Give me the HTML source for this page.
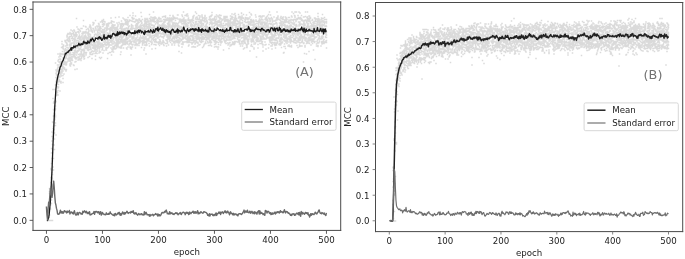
<!DOCTYPE html>
<html lang="en"><head><meta charset="utf-8"><title>MCC vs epoch</title>
<style>html,body{margin:0;padding:0;background:#fff;}body{width:685px;height:259px;overflow:hidden;}</style>
</head><body>
<svg width="685" height="259" viewBox="0 0 685 259" style="display:block;font-family:'DejaVu Sans', 'Liberation Sans', sans-serif">
<rect x="0" y="0" width="685" height="259" fill="#fff"/>
<path d="M152.75 12h1.5M182.75 12h1.5M194.75 12h1.5M268.75 12h1.5M276.25 12h1.5M291.25 12h1.5M294.25 12h3M298.25 12h1.5M304.75 12h1.5M306.75 12h1.5M140.25 12.5h1.5M211.25 12.5h1.5M248.75 12.5h1.5M132.25 13h1.5M240.75 13h1.5M299.25 13h1.5M195.75 13.5h1.5M234.25 13.5h1.5M240.75 13.5h1.5M292.75 13.5h1.5M317.25 13.5h1.5M186.75 14h1.5M231.25 14h1.5M250.25 14h1.5M148.75 14.5h1.5M185.75 14.5h1.5M233.25 14.5h1.5M237.75 14.5h1.5M242.75 14.5h1.5M267.75 14.5h1.5M321.75 14.5h1.5M176.75 15h2M181.25 15h1.5M185.75 15h1.5M201.25 15h1.5M211.25 15h1.5M215.75 15h1.5M218.75 15h1.5M245.75 15h1.5M250.75 15h1.5M254.75 15h1.5M269.75 15h1.5M129.25 15.5h1.5M132.25 15.5h1.5M169.25 15.5h1.5M172.25 15.5h1.5M184.25 15.5h3M193.25 15.5h1.5M197.75 15.5h1.5M201.25 15.5h1.5M204.25 15.5h1.5M210.75 15.5h1.5M219.25 15.5h2.5M234.75 15.5h1.5M293.75 15.5h1.5M297.25 15.5h1.5M300.75 15.5h1.5M134.75 16h1.5M164.75 16h1.5M186.25 16h2.5M199.25 16h1.5M210.25 16h1.5M217.25 16h1.5M229.75 16h1.5M241.25 16h1.5M258.75 16h2.5M261.75 16h3M266.75 16h1.5M277.25 16h1.5M290.75 16h1.5M294.25 16h1.5M308.25 16h2M140.75 16.5h1.5M162.75 16.5h2M172.25 16.5h1.5M181.75 16.5h1.5M192.25 16.5h1.5M204.25 16.5h1.5M209.25 16.5h2.5M214.25 16.5h1.5M223.25 16.5h4.5M231.25 16.5h1.5M238.25 16.5h2.5M258.25 16.5h1.5M280.25 16.5h1.5M304.75 16.5h1.5M317.25 16.5h1.5M118.25 17h1.5M150.25 17h1.5M154.25 17h1.5M161.75 17h1.5M172.75 17h1.5M192.75 17h1.5M196.25 17h1.5M199.25 17h1.5M201.25 17h1.5M208.75 17h1.5M215.75 17h1.5M217.75 17h1.5M223.75 17h1.5M234.75 17h1.5M241.25 17h1.5M249.25 17h1.5M255.25 17h1.5M259.75 17h3M265.75 17h1.5M273.25 17h1.5M277.25 17h1.5M282.75 17h1.5M284.75 17h1.5M291.25 17h1.5M294.25 17h1.5M302.75 17h2M306.75 17h1.5M114.75 17.5h1.5M127.25 17.5h1.5M131.25 17.5h2M152.25 17.5h3.5M158.25 17.5h1.5M164.75 17.5h1.5M173.75 17.5h1.5M195.25 17.5h2.5M201.75 17.5h1.5M219.25 17.5h1.5M223.75 17.5h4M232.25 17.5h1.5M234.25 17.5h1.5M239.75 17.5h1.5M244.75 17.5h1.5M270.75 17.5h1.5M276.75 17.5h1.5M281.75 17.5h1.5M287.75 17.5h2.5M294.25 17.5h1.5M297.75 17.5h1.5M299.75 17.5h1.5M306.25 17.5h1.5M309.25 17.5h2M323.75 17.5h1.5M110.25 18h1.5M122.25 18h1.5M151.25 18h1.5M155.25 18h1.5M166.75 18h1.5M168.75 18h1.5M170.75 18h1.5M174.25 18h1.5M176.25 18h1.5M183.25 18h1.5M187.75 18h1.5M192.25 18h1.5M198.75 18h1.5M203.25 18h2M205.75 18h1.5M213.75 18h1.5M218.75 18h2M223.25 18h1.5M230.75 18h1.5M237.75 18h3M241.25 18h3M244.75 18h4M264.75 18h1.5M267.75 18h1.5M270.75 18h1.5M275.75 18h1.5M279.75 18h1.5M285.25 18h2M297.75 18h3M313.75 18h2M320.75 18h1.5M75.75 18.5h1.5M131.75 18.5h3M144.25 18.5h1.5M146.25 18.5h1.5M148.75 18.5h2M155.25 18.5h1.5M157.75 18.5h3M168.25 18.5h1.5M170.25 18.5h1.5M172.25 18.5h4.5M192.25 18.5h1.5M196.75 18.5h1.5M204.25 18.5h1.5M209.25 18.5h1.5M219.75 18.5h1.5M223.75 18.5h1.5M229.75 18.5h1.5M235.75 18.5h1.5M240.25 18.5h1.5M242.75 18.5h1.5M248.25 18.5h1.5M264.75 18.5h2.5M269.25 18.5h1.5M280.75 18.5h1.5M296.25 18.5h3M300.75 18.5h1.5M307.75 18.5h3.5M314.25 18.5h2M317.75 18.5h1.5M321.75 18.5h2M123.25 19h1.5M131.75 19h2.5M138.25 19h2M153.25 19h2M158.75 19h3M166.25 19h1.5M169.25 19h4.5M177.25 19h1.5M179.25 19h1.5M182.75 19h1.5M187.75 19h1.5M194.75 19h1.5M201.75 19h1.5M204.25 19h1.5M209.25 19h1.5M211.75 19h2.5M215.75 19h1.5M219.25 19h3M224.25 19h1.5M231.25 19h1.5M233.75 19h3M246.25 19h2M258.75 19h1.5M260.75 19h1.5M265.25 19h2M268.75 19h1.5M271.75 19h1.5M277.25 19h1.5M282.25 19h1.5M285.25 19h1.5M299.25 19h2M306.75 19h1.5M308.75 19h1.5M315.75 19h2M318.25 19h1.5M320.75 19h1.5M102.75 19.5h1.5M125.25 19.5h1.5M135.25 19.5h1.5M141.75 19.5h1.5M145.75 19.5h2.5M149.75 19.5h1.5M152.25 19.5h2M156.75 19.5h1.5M162.75 19.5h4.5M168.25 19.5h3M171.75 19.5h2.5M181.25 19.5h3M187.25 19.5h1.5M191.25 19.5h1.5M196.25 19.5h4M208.25 19.5h1.5M210.75 19.5h2M213.75 19.5h2M222.25 19.5h1.5M224.25 19.5h4.5M240.75 19.5h1.5M244.25 19.5h1.5M247.25 19.5h1.5M249.75 19.5h2.5M261.25 19.5h1.5M264.25 19.5h2M266.75 19.5h1.5M269.25 19.5h1.5M271.25 19.5h1.5M276.25 19.5h1.5M278.25 19.5h1.5M281.75 19.5h2.5M285.75 19.5h2M290.25 19.5h1.5M292.75 19.5h5.5M307.75 19.5h1.5M311.75 19.5h1.5M317.75 19.5h2M323.75 19.5h3.5M124.75 20h1.5M126.75 20h1.5M128.75 20h1.5M136.75 20h1.5M138.75 20h1.5M144.25 20h1.5M151.25 20h1.5M153.25 20h1.5M167.25 20h1.5M169.75 20h3M178.75 20h8M189.25 20h4M199.75 20h3M203.75 20h1.5M205.75 20h1.5M209.25 20h1.5M214.75 20h1.5M221.75 20h1.5M229.75 20h1.5M232.75 20h3M239.25 20h1.5M244.75 20h1.5M250.75 20h1.5M252.75 20h1.5M255.25 20h1.5M260.25 20h1.5M262.25 20h1.5M265.25 20h2.5M275.25 20h2.5M279.25 20h1.5M283.75 20h1.5M288.25 20h1.5M290.75 20h3.5M295.25 20h1.5M300.75 20h2.5M304.75 20h1.5M307.25 20h3M311.75 20h1.5M314.75 20h1.5M316.75 20h1.5M319.25 20h1.5M82.75 20.5h1.5M94.75 20.5h1.5M101.25 20.5h1.5M124.25 20.5h1.5M129.75 20.5h1.5M136.75 20.5h1.5M139.25 20.5h2.5M147.25 20.5h1.5M150.25 20.5h2M156.25 20.5h3M164.25 20.5h3.5M168.75 20.5h3.5M174.75 20.5h1.5M179.25 20.5h1.5M183.75 20.5h3M187.25 20.5h3.5M192.25 20.5h2M201.25 20.5h3M212.25 20.5h1.5M214.25 20.5h1.5M218.25 20.5h1.5M223.75 20.5h1.5M225.75 20.5h4M235.75 20.5h2.5M241.75 20.5h1.5M250.25 20.5h1.5M258.25 20.5h1.5M266.25 20.5h2M269.25 20.5h1.5M274.75 20.5h1.5M279.75 20.5h1.5M284.25 20.5h3M289.25 20.5h1.5M300.75 20.5h1.5M303.75 20.5h3.5M311.25 20.5h1.5M317.75 20.5h2M321.25 20.5h1.5M102.25 21h1.5M110.75 21h1.5M120.75 21h1.5M130.75 21h2M135.25 21h1.5M137.25 21h1.5M143.75 21h2.5M149.25 21h1.5M152.75 21h1.5M159.75 21h3M178.75 21h3M182.25 21h3M191.25 21h1.5M200.25 21h1.5M203.25 21h1.5M205.75 21h2M210.25 21h1.5M214.75 21h1.5M217.25 21h3M220.75 21h1.5M224.75 21h6.5M251.25 21h1.5M253.25 21h1.5M259.25 21h1.5M266.75 21h2M269.75 21h1.5M271.75 21h4M283.75 21h2.5M292.75 21h1.5M302.25 21h1.5M306.25 21h2.5M309.25 21h1.5M314.75 21h1.5M317.25 21h2M322.25 21h2M101.25 21.5h1.5M103.75 21.5h1.5M111.75 21.5h1.5M125.25 21.5h4.5M132.25 21.5h1.5M134.25 21.5h1.5M139.75 21.5h2.5M146.25 21.5h3M152.25 21.5h4M157.75 21.5h4.5M163.25 21.5h1.5M168.25 21.5h1.5M181.75 21.5h5M189.75 21.5h1.5M194.75 21.5h2.5M197.75 21.5h3.5M204.75 21.5h1.5M215.75 21.5h4.5M223.75 21.5h1.5M229.75 21.5h1.5M233.25 21.5h3M236.75 21.5h3M243.75 21.5h1.5M247.25 21.5h1.5M249.75 21.5h2M252.75 21.5h1.5M255.25 21.5h3M269.25 21.5h1.5M281.25 21.5h1.5M287.75 21.5h2M295.25 21.5h1.5M303.25 21.5h1.5M305.75 21.5h1.5M308.25 21.5h2.5M313.25 21.5h5M320.25 21.5h1.5M323.25 21.5h1.5M325.75 21.5h1.5M99.75 22h1.5M104.25 22h1.5M113.25 22h1.5M133.75 22h2M137.25 22h1.5M144.25 22h2M150.25 22h1.5M153.75 22h1.5M156.75 22h1.5M163.75 22h2M169.25 22h1.5M171.25 22h1.5M180.25 22h1.5M184.75 22h1.5M189.25 22h1.5M195.25 22h1.5M199.75 22h2.5M204.25 22h1.5M210.75 22h1.5M214.25 22h1.5M219.25 22h2M231.75 22h3M238.75 22h2M244.75 22h1.5M248.25 22h1.5M250.75 22h3M257.75 22h1.5M260.75 22h3M264.25 22h1.5M271.75 22h1.5M280.25 22h4M286.25 22h3M290.25 22h1.5M297.75 22h3M305.75 22h1.5M316.75 22h6.5M324.75 22h1.5M92.25 22.5h1.5M101.75 22.5h1.5M110.25 22.5h1.5M118.25 22.5h1.5M124.75 22.5h3M137.75 22.5h2M146.25 22.5h1.5M155.75 22.5h3M163.25 22.5h1.5M167.75 22.5h1.5M173.25 22.5h1.5M178.25 22.5h1.5M180.25 22.5h1.5M187.25 22.5h1.5M192.25 22.5h1.5M194.75 22.5h1.5M198.75 22.5h1.5M206.75 22.5h1.5M209.25 22.5h3.5M216.25 22.5h5.5M227.25 22.5h2M230.75 22.5h2M234.25 22.5h1.5M241.75 22.5h1.5M245.25 22.5h4.5M250.25 22.5h2M253.25 22.5h1.5M258.25 22.5h2M261.75 22.5h3M266.25 22.5h1.5M275.75 22.5h1.5M280.25 22.5h1.5M284.25 22.5h2M287.75 22.5h2M290.25 22.5h1.5M303.25 22.5h1.5M309.75 22.5h1.5M312.25 22.5h2.5M316.75 22.5h1.5M318.75 22.5h2.5M323.25 22.5h2M93.25 23h1.5M108.25 23h1.5M110.75 23h1.5M116.25 23h1.5M127.25 23h1.5M141.25 23h1.5M145.25 23h1.5M148.25 23h1.5M157.25 23h1.5M162.75 23h2M172.25 23h1.5M175.25 23h1.5M183.25 23h1.5M188.25 23h1.5M190.25 23h1.5M192.75 23h1.5M195.25 23h1.5M199.25 23h3M206.25 23h2M209.75 23h1.5M213.25 23h2M228.25 23h4.5M233.25 23h1.5M238.25 23h5M249.25 23h2.5M259.75 23h1.5M266.25 23h1.5M275.25 23h1.5M278.75 23h1.5M287.75 23h1.5M291.25 23h4M306.25 23h1.5M309.75 23h1.5M312.75 23h2M325.75 23h1.5M97.75 23.5h1.5M102.75 23.5h1.5M107.25 23.5h3M120.75 23.5h2.5M125.75 23.5h1.5M135.75 23.5h3M140.75 23.5h1.5M144.25 23.5h3M148.75 23.5h1.5M156.75 23.5h1.5M166.75 23.5h1.5M172.25 23.5h6.5M181.75 23.5h1.5M183.75 23.5h3.5M187.75 23.5h1.5M197.25 23.5h1.5M199.75 23.5h2M202.25 23.5h2M209.75 23.5h5M215.25 23.5h1.5M220.75 23.5h1.5M222.75 23.5h1.5M225.25 23.5h1.5M228.75 23.5h1.5M232.25 23.5h8M247.75 23.5h2.5M256.25 23.5h1.5M260.25 23.5h1.5M263.75 23.5h4M268.25 23.5h4M274.75 23.5h2.5M279.25 23.5h1.5M282.75 23.5h1.5M288.75 23.5h1.5M292.25 23.5h2.5M298.75 23.5h1.5M302.75 23.5h1.5M307.25 23.5h1.5M313.25 23.5h2.5M316.25 23.5h1.5M319.25 23.5h1.5M323.75 23.5h1.5M92.75 24h1.5M98.25 24h1.5M103.25 24h2M105.75 24h1.5M107.75 24h1.5M119.25 24h6.5M143.75 24h3M149.75 24h2M154.75 24h1.5M157.25 24h1.5M161.75 24h2M167.75 24h3M171.75 24h2.5M181.25 24h1.5M183.25 24h2M201.75 24h1.5M205.75 24h1.5M216.25 24h1.5M220.25 24h2M225.75 24h2.5M229.25 24h2M236.25 24h2.5M247.75 24h1.5M252.25 24h1.5M254.25 24h2M257.75 24h1.5M259.75 24h1.5M261.75 24h1.5M272.75 24h2.5M276.25 24h1.5M280.75 24h2.5M292.25 24h1.5M300.25 24h1.5M303.25 24h2.5M307.75 24h1.5M310.75 24h1.5M318.25 24h2M321.25 24h1.5M101.75 24.5h1.5M105.75 24.5h3M111.75 24.5h1.5M117.25 24.5h1.5M120.25 24.5h3M125.25 24.5h3.5M130.75 24.5h1.5M145.75 24.5h4M167.25 24.5h2.5M171.75 24.5h2.5M174.75 24.5h1.5M176.75 24.5h1.5M186.25 24.5h1.5M190.25 24.5h2M193.75 24.5h4M200.75 24.5h1.5M208.75 24.5h1.5M211.25 24.5h1.5M215.25 24.5h1.5M218.75 24.5h3M225.75 24.5h5.5M231.75 24.5h3M236.25 24.5h1.5M239.25 24.5h2M242.75 24.5h2M248.75 24.5h2.5M260.25 24.5h1.5M263.75 24.5h1.5M269.75 24.5h3M280.25 24.5h1.5M283.75 24.5h1.5M293.25 24.5h1.5M295.75 24.5h1.5M301.75 24.5h1.5M303.75 24.5h2M317.75 24.5h1.5M321.75 24.5h1.5M89.25 25h1.5M92.25 25h1.5M98.25 25h1.5M103.25 25h1.5M113.25 25h2.5M126.75 25h1.5M130.75 25h1.5M135.25 25h3M139.75 25h1.5M142.25 25h3M148.25 25h2M151.75 25h1.5M158.75 25h1.5M161.25 25h1.5M163.25 25h2.5M167.75 25h3M171.75 25h1.5M176.75 25h1.5M184.75 25h1.5M189.75 25h1.5M191.75 25h1.5M193.75 25h1.5M198.25 25h1.5M202.75 25h1.5M205.25 25h1.5M211.25 25h1.5M214.75 25h1.5M217.75 25h1.5M224.75 25h1.5M228.25 25h2.5M232.75 25h1.5M235.25 25h1.5M239.25 25h1.5M242.25 25h1.5M249.75 25h3.5M253.75 25h1.5M260.75 25h2M263.75 25h3M267.25 25h1.5M272.25 25h1.5M281.75 25h1.5M284.25 25h1.5M290.25 25h1.5M293.75 25h2.5M298.25 25h3M306.75 25h1.5M311.25 25h3M316.25 25h1.5M318.25 25h2.5M321.75 25h3M89.25 25.5h1.5M106.25 25.5h1.5M111.25 25.5h4M120.75 25.5h1.5M122.75 25.5h1.5M131.25 25.5h1.5M134.75 25.5h1.5M141.25 25.5h2M148.25 25.5h1.5M150.75 25.5h4M159.25 25.5h2M162.25 25.5h2M171.75 25.5h5.5M177.75 25.5h1.5M185.25 25.5h1.5M187.25 25.5h1.5M189.75 25.5h2M196.75 25.5h1.5M200.25 25.5h1.5M213.75 25.5h1.5M216.75 25.5h1.5M221.75 25.5h4M229.25 25.5h2.5M232.25 25.5h5M239.75 25.5h1.5M243.75 25.5h1.5M245.75 25.5h2.5M252.25 25.5h1.5M257.75 25.5h1.5M267.25 25.5h1.5M272.25 25.5h1.5M278.75 25.5h4M283.25 25.5h3M286.75 25.5h1.5M289.25 25.5h1.5M304.25 25.5h1.5M311.75 25.5h1.5M314.25 25.5h1.5M318.75 25.5h3M323.25 25.5h1.5M325.25 25.5h1.5M82.75 26h1.5M89.75 26h1.5M96.25 26h1.5M105.75 26h3.5M117.25 26h1.5M119.75 26h2.5M128.75 26h1.5M131.75 26h2M135.75 26h2M139.25 26h1.5M143.25 26h1.5M145.25 26h2M148.75 26h1.5M153.75 26h1.5M157.25 26h2.5M160.75 26h1.5M163.75 26h1.5M165.75 26h1.5M168.75 26h1.5M170.75 26h1.5M173.25 26h6.5M182.75 26h1.5M185.75 26h2M190.25 26h1.5M193.25 26h2.5M201.25 26h1.5M217.25 26h4.5M226.75 26h1.5M238.25 26h2.5M243.75 26h1.5M245.75 26h1.5M255.75 26h1.5M262.75 26h1.5M266.75 26h1.5M276.25 26h1.5M281.25 26h1.5M284.25 26h3.5M289.25 26h3M296.25 26h1.5M298.25 26h1.5M302.75 26h1.5M307.75 26h1.5M309.75 26h1.5M313.75 26h3M319.25 26h1.5M321.25 26h2M325.25 26h1.5M84.75 26.5h1.5M97.25 26.5h1.5M99.25 26.5h1.5M101.75 26.5h2M106.25 26.5h1.5M111.25 26.5h1.5M121.75 26.5h1.5M127.75 26.5h1.5M130.75 26.5h1.5M136.25 26.5h1.5M138.25 26.5h3.5M142.75 26.5h1.5M144.75 26.5h3.5M149.25 26.5h1.5M158.75 26.5h1.5M160.75 26.5h1.5M163.25 26.5h1.5M166.25 26.5h3.5M170.75 26.5h1.5M173.25 26.5h2M176.75 26.5h3M180.25 26.5h1.5M183.25 26.5h1.5M185.25 26.5h3M191.25 26.5h1.5M199.25 26.5h2.5M203.75 26.5h4.5M213.25 26.5h1.5M222.25 26.5h1.5M228.25 26.5h1.5M231.25 26.5h1.5M235.25 26.5h1.5M242.75 26.5h3M252.75 26.5h1.5M254.75 26.5h1.5M259.25 26.5h1.5M265.75 26.5h1.5M271.75 26.5h1.5M280.75 26.5h1.5M286.25 26.5h1.5M288.25 26.5h1.5M295.25 26.5h1.5M306.25 26.5h3M311.25 26.5h2.5M316.25 26.5h1.5M319.25 26.5h1.5M324.25 26.5h3M76.25 27h1.5M85.25 27h1.5M88.75 27h1.5M94.75 27h1.5M96.75 27h1.5M98.75 27h2.5M106.25 27h1.5M112.75 27h1.5M116.75 27h1.5M130.75 27h1.5M135.25 27h1.5M138.75 27h3M144.25 27h1.5M146.75 27h3M153.25 27h1.5M159.25 27h4M165.25 27h1.5M167.75 27h3.5M171.75 27h1.5M174.75 27h1.5M179.75 27h2M182.75 27h3M190.75 27h1.5M193.25 27h1.5M196.25 27h1.5M199.75 27h1.5M210.25 27h3M216.25 27h1.5M219.75 27h2M230.75 27h1.5M236.25 27h2.5M242.75 27h2.5M246.75 27h1.5M254.25 27h2.5M257.25 27h7.5M265.25 27h1.5M267.25 27h1.5M269.75 27h1.5M272.25 27h1.5M274.25 27h1.5M281.25 27h1.5M284.25 27h1.5M287.25 27h1.5M289.25 27h1.5M291.75 27h2.5M307.25 27h3M312.75 27h1.5M318.75 27h1.5M90.25 27.5h1.5M109.75 27.5h7.5M119.75 27.5h1.5M127.75 27.5h1.5M135.75 27.5h3.5M140.25 27.5h1.5M147.25 27.5h1.5M149.75 27.5h1.5M152.25 27.5h1.5M155.75 27.5h1.5M157.75 27.5h1.5M160.25 27.5h3M163.75 27.5h1.5M165.75 27.5h1.5M176.75 27.5h3M181.75 27.5h1.5M186.75 27.5h3M190.75 27.5h1.5M195.75 27.5h3M200.25 27.5h1.5M202.25 27.5h1.5M204.75 27.5h1.5M212.75 27.5h1.5M224.75 27.5h1.5M231.75 27.5h1.5M234.75 27.5h2.5M238.75 27.5h1.5M242.25 27.5h3M246.75 27.5h1.5M256.25 27.5h1.5M261.75 27.5h5M267.75 27.5h1.5M274.25 27.5h1.5M277.25 27.5h1.5M280.75 27.5h1.5M285.25 27.5h1.5M292.75 27.5h1.5M303.75 27.5h2.5M314.75 27.5h1.5M316.75 27.5h1.5M320.25 27.5h2.5M89.75 28h1.5M94.75 28h1.5M104.25 28h4M110.25 28h1.5M112.25 28h1.5M120.25 28h2.5M125.75 28h1.5M127.75 28h1.5M132.25 28h1.5M136.25 28h1.5M139.25 28h1.5M141.75 28h1.5M143.75 28h1.5M146.25 28h1.5M149.25 28h2.5M152.75 28h1.5M157.75 28h3.5M164.75 28h1.5M170.25 28h1.5M173.75 28h1.5M176.75 28h1.5M180.25 28h2M191.25 28h1.5M204.75 28h4M215.25 28h2M221.75 28h3M226.75 28h1.5M236.25 28h1.5M240.75 28h3M247.75 28h1.5M251.25 28h4.5M256.25 28h1.5M258.25 28h1.5M260.75 28h1.5M267.25 28h1.5M269.25 28h4M274.75 28h1.5M286.25 28h5M294.75 28h1.5M302.25 28h2.5M306.75 28h1.5M310.25 28h1.5M312.75 28h2.5M315.75 28h3M80.25 28.5h2.5M87.25 28.5h1.5M90.25 28.5h1.5M92.25 28.5h2M98.75 28.5h3M106.75 28.5h1.5M108.75 28.5h4M113.25 28.5h4.5M119.25 28.5h1.5M124.25 28.5h4.5M129.75 28.5h8.5M148.25 28.5h3M151.75 28.5h1.5M153.75 28.5h2M156.75 28.5h1.5M160.25 28.5h1.5M163.75 28.5h1.5M167.25 28.5h1.5M170.25 28.5h2.5M176.25 28.5h3M182.75 28.5h1.5M186.75 28.5h1.5M194.25 28.5h1.5M196.75 28.5h2.5M202.25 28.5h1.5M206.25 28.5h1.5M208.75 28.5h1.5M211.75 28.5h2.5M215.75 28.5h1.5M222.25 28.5h3M230.25 28.5h1.5M232.25 28.5h1.5M239.25 28.5h1.5M245.75 28.5h1.5M251.25 28.5h1.5M256.75 28.5h2M259.25 28.5h1.5M262.75 28.5h1.5M264.75 28.5h1.5M268.75 28.5h2.5M272.75 28.5h1.5M278.75 28.5h2.5M288.25 28.5h1.5M293.75 28.5h1.5M297.25 28.5h1.5M300.25 28.5h4.5M305.75 28.5h2.5M310.25 28.5h2.5M319.25 28.5h5M77.25 29h1.5M95.25 29h1.5M97.25 29h1.5M107.75 29h1.5M115.75 29h2.5M120.75 29h1.5M122.75 29h1.5M127.25 29h1.5M129.75 29h2M134.25 29h3M140.25 29h1.5M143.25 29h4M147.75 29h1.5M152.75 29h1.5M155.25 29h3M158.75 29h2.5M162.25 29h1.5M167.75 29h1.5M172.75 29h1.5M176.25 29h1.5M178.75 29h1.5M189.25 29h3M196.75 29h1.5M200.75 29h1.5M204.25 29h4.5M209.75 29h1.5M216.75 29h1.5M222.25 29h3M225.75 29h2M235.25 29h3M242.25 29h1.5M255.75 29h1.5M257.75 29h1.5M267.25 29h2.5M276.75 29h1.5M278.75 29h2.5M283.25 29h3M286.75 29h2.5M291.75 29h1.5M295.75 29h2.5M300.25 29h1.5M304.75 29h1.5M309.25 29h3M314.75 29h4.5M320.25 29h1.5M323.25 29h1.5M325.25 29h1.5M78.25 29.5h1.5M85.75 29.5h1.5M87.75 29.5h1.5M90.25 29.5h1.5M98.25 29.5h1.5M101.75 29.5h3.5M105.75 29.5h1.5M108.75 29.5h1.5M113.75 29.5h1.5M117.25 29.5h1.5M120.75 29.5h1.5M124.25 29.5h1.5M130.25 29.5h2.5M134.75 29.5h1.5M139.25 29.5h1.5M141.25 29.5h2M144.25 29.5h2M153.75 29.5h1.5M161.25 29.5h1.5M165.25 29.5h4.5M171.75 29.5h4M176.25 29.5h3M180.75 29.5h1.5M186.25 29.5h1.5M192.75 29.5h3M196.25 29.5h1.5M204.25 29.5h1.5M208.75 29.5h1.5M212.25 29.5h1.5M214.75 29.5h2M225.75 29.5h1.5M237.75 29.5h3.5M243.75 29.5h1.5M248.25 29.5h4M252.75 29.5h1.5M256.75 29.5h3M264.75 29.5h3.5M270.75 29.5h3M274.25 29.5h2.5M277.25 29.5h1.5M279.25 29.5h1.5M281.25 29.5h1.5M287.75 29.5h1.5M291.75 29.5h1.5M293.75 29.5h2.5M302.25 29.5h1.5M309.25 29.5h1.5M314.75 29.5h2.5M320.75 29.5h1.5M322.75 29.5h4M70.25 30h1.5M73.25 30h1.5M90.75 30h1.5M93.25 30h1.5M95.25 30h1.5M99.25 30h1.5M106.25 30h1.5M109.75 30h3.5M114.75 30h1.5M121.75 30h2.5M127.25 30h1.5M129.25 30h1.5M137.75 30h1.5M141.75 30h4.5M152.75 30h1.5M164.25 30h1.5M166.75 30h1.5M189.75 30h1.5M195.75 30h1.5M204.75 30h1.5M207.75 30h1.5M212.75 30h3M216.25 30h1.5M221.25 30h1.5M223.25 30h2.5M227.75 30h1.5M237.75 30h1.5M239.75 30h1.5M241.75 30h1.5M244.75 30h1.5M246.75 30h1.5M253.75 30h2.5M261.75 30h7M271.25 30h3.5M275.75 30h2.5M290.25 30h1.5M296.75 30h2.5M303.25 30h1.5M307.75 30h1.5M312.25 30h1.5M314.25 30h1.5M317.75 30h1.5M320.25 30h1.5M322.25 30h3.5M79.25 30.5h1.5M88.25 30.5h1.5M91.25 30.5h1.5M97.25 30.5h3.5M103.25 30.5h1.5M110.25 30.5h2.5M116.25 30.5h2M121.25 30.5h1.5M124.25 30.5h6M136.25 30.5h1.5M138.75 30.5h1.5M142.75 30.5h1.5M155.75 30.5h1.5M163.75 30.5h1.5M171.75 30.5h1.5M177.75 30.5h1.5M181.25 30.5h4M191.75 30.5h1.5M195.75 30.5h1.5M197.75 30.5h1.5M199.75 30.5h1.5M201.75 30.5h1.5M203.75 30.5h1.5M206.25 30.5h1.5M208.25 30.5h3.5M212.25 30.5h2.5M219.75 30.5h2.5M222.75 30.5h3M232.75 30.5h1.5M234.75 30.5h1.5M236.75 30.5h1.5M238.75 30.5h1.5M246.25 30.5h1.5M254.25 30.5h1.5M263.25 30.5h1.5M266.25 30.5h3.5M270.25 30.5h1.5M273.75 30.5h1.5M278.25 30.5h1.5M285.25 30.5h2M288.25 30.5h1.5M290.25 30.5h1.5M293.25 30.5h2.5M296.25 30.5h3M301.25 30.5h3M307.25 30.5h1.5M310.75 30.5h2.5M318.75 30.5h1.5M322.75 30.5h1.5M325.25 30.5h1.5M71.75 31h1.5M73.75 31h1.5M88.25 31h1.5M90.25 31h1.5M93.75 31h1.5M96.75 31h1.5M99.25 31h1.5M101.25 31h1.5M105.25 31h1.5M109.25 31h1.5M111.75 31h2.5M116.75 31h1.5M118.75 31h3M126.25 31h1.5M138.75 31h3M142.75 31h1.5M147.75 31h3.5M156.75 31h3M167.25 31h2M171.25 31h6M179.25 31h1.5M190.25 31h1.5M196.75 31h1.5M198.75 31h1.5M201.25 31h1.5M207.25 31h1.5M213.25 31h2.5M218.25 31h3M225.25 31h1.5M227.25 31h4.5M234.75 31h1.5M238.25 31h1.5M241.75 31h2M251.75 31h1.5M255.25 31h1.5M258.75 31h1.5M260.75 31h1.5M271.25 31h2M274.25 31h1.5M276.25 31h2.5M279.75 31h1.5M289.75 31h1.5M295.25 31h3M301.25 31h3M308.25 31h4M315.75 31h1.5M324.75 31h1.5M77.75 31.5h1.5M79.75 31.5h1.5M85.25 31.5h1.5M91.25 31.5h2M96.75 31.5h1.5M100.75 31.5h2M109.25 31.5h1.5M114.25 31.5h4.5M122.25 31.5h1.5M127.75 31.5h1.5M134.25 31.5h1.5M136.75 31.5h1.5M139.25 31.5h3.5M143.25 31.5h2M149.75 31.5h1.5M155.75 31.5h2.5M159.25 31.5h1.5M161.75 31.5h1.5M163.75 31.5h3.5M169.75 31.5h1.5M176.25 31.5h1.5M195.25 31.5h1.5M201.75 31.5h1.5M203.75 31.5h1.5M207.25 31.5h1.5M209.75 31.5h1.5M222.75 31.5h1.5M228.75 31.5h1.5M237.25 31.5h1.5M240.75 31.5h1.5M247.75 31.5h2M250.25 31.5h2.5M257.75 31.5h1.5M259.75 31.5h3.5M264.75 31.5h1.5M272.75 31.5h2M281.25 31.5h1.5M283.25 31.5h1.5M285.25 31.5h1.5M289.25 31.5h1.5M292.75 31.5h3M296.75 31.5h2M299.25 31.5h1.5M304.25 31.5h4.5M310.75 31.5h4.5M316.75 31.5h1.5M320.75 31.5h1.5M322.75 31.5h1.5M76.75 32h1.5M82.25 32h4M87.75 32h1.5M93.75 32h1.5M102.75 32h2.5M111.75 32h1.5M116.75 32h1.5M119.75 32h3.5M124.75 32h1.5M128.75 32h1.5M140.75 32h1.5M142.75 32h2.5M151.75 32h1.5M154.25 32h2M157.25 32h3M162.25 32h1.5M164.25 32h1.5M166.25 32h1.5M170.75 32h2M188.75 32h4M197.25 32h1.5M199.75 32h3M206.25 32h1.5M208.75 32h1.5M211.25 32h2M218.25 32h2M221.75 32h1.5M228.75 32h1.5M233.25 32h1.5M236.75 32h1.5M247.25 32h3.5M251.25 32h1.5M255.75 32h3M262.25 32h2M266.25 32h2.5M270.75 32h1.5M274.25 32h1.5M278.75 32h1.5M286.75 32h2M291.75 32h3M295.75 32h1.5M301.75 32h1.5M313.75 32h1.5M318.25 32h1.5M322.25 32h3M325.75 32h1.5M69.25 32.5h1.5M72.75 32.5h1.5M74.75 32.5h2M85.25 32.5h1.5M87.25 32.5h2M91.75 32.5h1.5M97.25 32.5h1.5M100.75 32.5h3M117.75 32.5h3M122.75 32.5h4M134.25 32.5h4M138.75 32.5h3M143.25 32.5h3M150.75 32.5h1.5M153.25 32.5h2.5M158.25 32.5h1.5M161.75 32.5h2.5M164.75 32.5h1.5M166.75 32.5h1.5M171.75 32.5h1.5M176.25 32.5h3.5M185.25 32.5h1.5M189.25 32.5h1.5M191.75 32.5h1.5M194.25 32.5h1.5M198.75 32.5h3M205.25 32.5h1.5M209.75 32.5h2.5M212.75 32.5h4.5M219.75 32.5h2.5M226.25 32.5h1.5M232.75 32.5h2.5M253.75 32.5h3.5M260.25 32.5h1.5M264.75 32.5h1.5M269.75 32.5h1.5M274.75 32.5h3.5M281.75 32.5h3.5M296.75 32.5h2.5M303.25 32.5h1.5M312.25 32.5h2M323.25 32.5h3M78.25 33h1.5M82.25 33h6.5M96.75 33h1.5M98.75 33h1.5M103.75 33h2M106.25 33h2M109.25 33h1.5M112.75 33h2.5M115.75 33h2.5M125.25 33h1.5M128.75 33h3M135.25 33h1.5M139.25 33h4M145.25 33h1.5M147.25 33h1.5M151.75 33h2M158.25 33h2.5M164.75 33h1.5M175.75 33h2M181.25 33h1.5M184.25 33h1.5M187.75 33h1.5M190.75 33h5M204.25 33h1.5M210.25 33h1.5M219.75 33h1.5M224.75 33h1.5M226.75 33h2M229.25 33h1.5M231.75 33h1.5M235.75 33h3M240.75 33h1.5M242.75 33h1.5M245.75 33h2M248.25 33h1.5M257.25 33h3.5M262.75 33h3M267.75 33h1.5M270.25 33h1.5M273.75 33h4.5M278.75 33h1.5M281.75 33h1.5M291.25 33h1.5M293.75 33h1.5M298.75 33h2.5M307.25 33h1.5M316.25 33h1.5M321.25 33h1.5M323.75 33h3M67.25 33.5h1.5M71.25 33.5h1.5M75.25 33.5h1.5M81.25 33.5h1.5M98.75 33.5h2M108.25 33.5h2M113.75 33.5h2.5M117.75 33.5h1.5M124.75 33.5h1.5M129.25 33.5h1.5M131.75 33.5h1.5M133.75 33.5h1.5M136.75 33.5h2M140.75 33.5h1.5M147.75 33.5h5.5M154.75 33.5h10.5M170.75 33.5h1.5M177.25 33.5h1.5M179.25 33.5h3M185.25 33.5h2M194.75 33.5h3M200.25 33.5h1.5M202.25 33.5h2.5M205.75 33.5h4M211.75 33.5h4M218.75 33.5h1.5M221.25 33.5h3M224.75 33.5h2.5M227.75 33.5h3.5M231.75 33.5h1.5M234.25 33.5h1.5M241.25 33.5h3.5M248.75 33.5h2M251.25 33.5h2.5M257.25 33.5h1.5M259.75 33.5h3.5M270.25 33.5h2M276.75 33.5h1.5M281.75 33.5h3.5M288.25 33.5h2M291.75 33.5h2M296.75 33.5h4.5M302.75 33.5h3M310.75 33.5h1.5M313.25 33.5h1.5M315.25 33.5h1.5M318.75 33.5h1.5M322.75 33.5h1.5M324.75 33.5h1.5M67.25 34h5M72.75 34h1.5M82.25 34h1.5M87.75 34h2.5M94.75 34h1.5M102.75 34h1.5M115.25 34h1.5M117.75 34h3M122.75 34h1.5M125.75 34h2.5M128.75 34h1.5M134.75 34h1.5M138.25 34h1.5M144.75 34h1.5M147.25 34h1.5M154.75 34h1.5M160.25 34h3M163.75 34h2.5M172.25 34h1.5M174.75 34h1.5M182.75 34h1.5M187.25 34h1.5M192.75 34h2.5M195.75 34h1.5M197.75 34h1.5M206.25 34h2M208.75 34h1.5M210.75 34h1.5M213.25 34h1.5M216.25 34h2M221.75 34h5M232.75 34h1.5M239.25 34h2M241.75 34h2M245.25 34h1.5M248.25 34h1.5M253.25 34h3M257.25 34h1.5M261.25 34h1.5M267.75 34h1.5M270.25 34h2.5M274.25 34h1.5M285.75 34h1.5M287.75 34h1.5M291.75 34h1.5M293.75 34h3M298.25 34h1.5M315.25 34h3.5M66.75 34.5h1.5M70.75 34.5h1.5M72.75 34.5h4.5M87.25 34.5h3.5M93.75 34.5h3.5M97.75 34.5h1.5M102.25 34.5h1.5M107.25 34.5h2.5M112.25 34.5h3M121.75 34.5h1.5M125.25 34.5h1.5M128.75 34.5h2.5M132.75 34.5h3.5M145.25 34.5h4.5M155.75 34.5h3M163.25 34.5h1.5M165.75 34.5h1.5M168.25 34.5h1.5M174.75 34.5h3.5M178.75 34.5h2M187.25 34.5h1.5M193.25 34.5h6M201.75 34.5h2.5M227.75 34.5h1.5M230.25 34.5h1.5M235.25 34.5h3M242.75 34.5h1.5M244.75 34.5h2M248.75 34.5h2M251.25 34.5h1.5M255.75 34.5h2.5M263.75 34.5h1.5M265.75 34.5h2M277.25 34.5h4M283.75 34.5h1.5M286.25 34.5h1.5M296.75 34.5h1.5M303.75 34.5h5M316.75 34.5h1.5M322.25 34.5h1.5M325.25 34.5h1.5M70.75 35h1.5M76.25 35h1.5M78.75 35h1.5M84.75 35h1.5M87.25 35h1.5M89.75 35h1.5M96.25 35h1.5M99.75 35h1.5M102.75 35h4.5M107.75 35h2M115.25 35h1.5M117.75 35h1.5M124.25 35h2M128.75 35h3M133.75 35h2M136.75 35h1.5M148.75 35h2M154.25 35h4.5M164.25 35h1.5M167.25 35h1.5M170.75 35h1.5M176.75 35h1.5M179.25 35h4.5M184.25 35h1.5M199.25 35h3M203.75 35h4M208.25 35h3.5M214.75 35h3M220.25 35h1.5M230.25 35h1.5M232.25 35h2M235.75 35h1.5M238.25 35h1.5M241.25 35h3.5M245.25 35h1.5M252.75 35h2M255.75 35h4M262.25 35h2M264.75 35h3.5M272.25 35h4M277.75 35h2M280.75 35h1.5M283.25 35h3M297.25 35h1.5M300.25 35h2M308.25 35h2.5M311.25 35h3.5M317.25 35h1.5M325.75 35h1.5M66.25 35.5h1.5M73.75 35.5h3M78.75 35.5h1.5M81.25 35.5h1.5M96.75 35.5h2M99.25 35.5h1.5M101.25 35.5h1.5M103.25 35.5h1.5M109.75 35.5h1.5M111.75 35.5h1.5M117.25 35.5h2M119.75 35.5h2M122.75 35.5h2.5M126.25 35.5h3M129.75 35.5h1.5M139.75 35.5h1.5M146.75 35.5h3.5M152.75 35.5h3M157.25 35.5h1.5M169.25 35.5h1.5M175.25 35.5h1.5M177.75 35.5h2.5M181.75 35.5h1.5M184.75 35.5h3.5M189.75 35.5h4M204.25 35.5h1.5M207.75 35.5h1.5M210.25 35.5h1.5M212.25 35.5h1.5M218.75 35.5h1.5M220.75 35.5h3.5M227.25 35.5h1.5M230.75 35.5h1.5M234.25 35.5h1.5M236.75 35.5h1.5M239.75 35.5h3M245.75 35.5h1.5M248.75 35.5h1.5M251.25 35.5h3M255.25 35.5h1.5M262.75 35.5h1.5M271.25 35.5h3M274.75 35.5h2M280.25 35.5h1.5M289.75 35.5h2M292.25 35.5h2M297.25 35.5h1.5M299.75 35.5h1.5M306.75 35.5h1.5M312.25 35.5h2.5M317.25 35.5h2.5M70.75 36h1.5M73.25 36h1.5M75.25 36h1.5M83.25 36h2.5M87.75 36h1.5M93.75 36h1.5M103.25 36h1.5M107.75 36h3.5M122.75 36h1.5M128.25 36h1.5M130.25 36h1.5M139.75 36h1.5M142.25 36h1.5M149.25 36h3.5M153.75 36h2M159.75 36h1.5M163.75 36h1.5M166.25 36h2M170.25 36h1.5M173.25 36h1.5M175.75 36h2M179.75 36h2M182.25 36h1.5M190.25 36h1.5M195.75 36h3M204.75 36h2M207.25 36h2M210.25 36h1.5M213.25 36h1.5M217.25 36h2.5M221.25 36h3M224.75 36h2M227.75 36h1.5M234.75 36h1.5M237.25 36h2M239.75 36h1.5M243.75 36h2M246.75 36h3.5M251.75 36h1.5M254.25 36h3M260.25 36h1.5M265.25 36h1.5M273.75 36h1.5M278.25 36h1.5M285.75 36h1.5M289.75 36h1.5M292.75 36h1.5M294.75 36h2M300.75 36h1.5M303.75 36h1.5M310.25 36h4M321.25 36h1.5M68.75 36.5h2.5M75.75 36.5h1.5M78.25 36.5h1.5M83.25 36.5h3.5M88.25 36.5h2M96.25 36.5h1.5M101.25 36.5h2.5M109.25 36.5h3M118.25 36.5h1.5M125.75 36.5h1.5M132.75 36.5h1.5M142.75 36.5h1.5M144.75 36.5h1.5M148.75 36.5h3M155.75 36.5h2M160.25 36.5h1.5M162.25 36.5h2M167.25 36.5h3.5M174.75 36.5h1.5M181.25 36.5h1.5M186.25 36.5h1.5M188.25 36.5h1.5M190.75 36.5h3M194.25 36.5h1.5M197.25 36.5h1.5M201.25 36.5h2.5M209.25 36.5h1.5M213.75 36.5h1.5M215.75 36.5h1.5M218.25 36.5h3.5M222.25 36.5h3M226.75 36.5h1.5M228.75 36.5h1.5M232.75 36.5h2.5M236.25 36.5h3M243.25 36.5h1.5M247.25 36.5h2.5M252.75 36.5h1.5M254.75 36.5h1.5M259.25 36.5h1.5M261.75 36.5h1.5M266.25 36.5h1.5M273.25 36.5h1.5M283.25 36.5h1.5M285.25 36.5h1.5M288.25 36.5h1.5M298.75 36.5h3M302.25 36.5h2M312.25 36.5h1.5M318.75 36.5h1.5M322.25 36.5h1.5M324.75 36.5h1.5M66.25 37h2M68.75 37h1.5M71.75 37h1.5M77.75 37h1.5M79.75 37h3M84.75 37h1.5M89.75 37h1.5M92.75 37h2M100.75 37h1.5M106.25 37h1.5M108.25 37h1.5M116.25 37h1.5M118.75 37h5M125.25 37h1.5M129.25 37h1.5M131.25 37h3.5M136.75 37h1.5M139.75 37h1.5M145.25 37h1.5M153.75 37h1.5M158.25 37h1.5M161.25 37h1.5M166.25 37h1.5M172.25 37h3M176.75 37h1.5M184.25 37h2M188.75 37h1.5M191.75 37h1.5M195.25 37h1.5M198.75 37h1.5M204.75 37h2M211.25 37h6M218.25 37h1.5M224.25 37h1.5M228.25 37h3.5M232.25 37h2.5M238.25 37h1.5M244.75 37h1.5M248.75 37h1.5M256.25 37h1.5M262.25 37h1.5M266.25 37h1.5M269.25 37h6M278.25 37h1.5M282.75 37h3.5M298.75 37h1.5M301.25 37h1.5M303.75 37h1.5M308.75 37h3M313.75 37h3.5M320.75 37h3M74.25 37.5h1.5M84.25 37.5h1.5M86.75 37.5h1.5M90.75 37.5h3M104.75 37.5h1.5M107.75 37.5h1.5M111.75 37.5h6M118.75 37.5h1.5M125.75 37.5h1.5M131.25 37.5h3.5M140.75 37.5h2M143.25 37.5h1.5M145.25 37.5h1.5M148.75 37.5h3M152.75 37.5h1.5M167.25 37.5h2.5M172.25 37.5h6.5M182.25 37.5h4M186.75 37.5h1.5M195.25 37.5h1.5M197.25 37.5h11.5M209.25 37.5h1.5M223.25 37.5h1.5M227.75 37.5h1.5M233.75 37.5h1.5M237.25 37.5h3M242.25 37.5h1.5M246.25 37.5h1.5M251.75 37.5h5.5M259.75 37.5h1.5M265.75 37.5h1.5M267.75 37.5h3.5M271.75 37.5h1.5M280.75 37.5h1.5M285.25 37.5h1.5M290.25 37.5h3M296.25 37.5h1.5M299.25 37.5h7.5M307.75 37.5h1.5M313.75 37.5h1.5M324.75 37.5h2.5M68.25 38h1.5M77.75 38h3.5M82.25 38h4.5M88.25 38h1.5M90.25 38h1.5M96.75 38h1.5M102.25 38h1.5M105.25 38h1.5M107.25 38h1.5M112.75 38h1.5M121.75 38h1.5M127.25 38h2M132.25 38h2.5M135.25 38h1.5M138.75 38h6.5M150.75 38h1.5M156.75 38h2M162.75 38h1.5M167.25 38h1.5M169.75 38h1.5M178.75 38h1.5M181.75 38h4M187.25 38h3M192.25 38h2M196.25 38h1.5M198.25 38h2M201.25 38h2.5M208.25 38h1.5M211.25 38h1.5M214.25 38h1.5M216.25 38h1.5M220.75 38h1.5M225.25 38h1.5M227.25 38h1.5M240.75 38h1.5M243.25 38h1.5M246.25 38h1.5M251.75 38h1.5M253.75 38h1.5M257.25 38h1.5M260.75 38h1.5M263.25 38h1.5M265.75 38h6M275.75 38h2.5M280.25 38h1.5M284.25 38h3.5M288.75 38h1.5M294.75 38h2M298.25 38h1.5M302.25 38h3M307.75 38h2.5M313.75 38h2M318.25 38h1.5M68.25 38.5h1.5M70.75 38.5h3M76.75 38.5h3M83.75 38.5h1.5M87.25 38.5h1.5M93.75 38.5h2M96.25 38.5h1.5M98.25 38.5h3M101.75 38.5h1.5M111.25 38.5h1.5M115.25 38.5h2M118.25 38.5h1.5M120.75 38.5h1.5M125.75 38.5h1.5M141.25 38.5h2.5M144.75 38.5h1.5M147.75 38.5h1.5M152.25 38.5h1.5M168.25 38.5h2M171.75 38.5h3.5M175.75 38.5h1.5M179.25 38.5h1.5M182.75 38.5h1.5M188.75 38.5h2.5M192.25 38.5h2.5M195.25 38.5h1.5M199.25 38.5h4.5M206.25 38.5h2M211.75 38.5h3M216.75 38.5h3.5M222.25 38.5h2.5M229.25 38.5h1.5M231.25 38.5h1.5M233.25 38.5h2.5M244.75 38.5h1.5M256.25 38.5h1.5M260.75 38.5h1.5M269.25 38.5h1.5M275.25 38.5h2M277.75 38.5h1.5M279.75 38.5h1.5M284.25 38.5h1.5M287.75 38.5h3.5M293.25 38.5h1.5M299.75 38.5h2M302.25 38.5h1.5M305.25 38.5h1.5M317.75 38.5h1.5M319.75 38.5h3.5M66.75 39h1.5M68.75 39h1.5M72.75 39h3M78.75 39h2M81.25 39h1.5M83.25 39h1.5M86.75 39h1.5M88.75 39h1.5M91.75 39h3.5M103.75 39h2M106.25 39h1.5M115.25 39h2M117.75 39h1.5M124.75 39h1.5M131.25 39h2.5M135.75 39h1.5M143.25 39h2.5M146.25 39h3.5M152.25 39h1.5M154.75 39h1.5M167.25 39h3M173.75 39h1.5M182.25 39h1.5M185.25 39h2M187.75 39h1.5M189.75 39h1.5M196.75 39h2.5M203.75 39h1.5M206.75 39h3M211.25 39h1.5M215.25 39h1.5M231.75 39h1.5M236.75 39h1.5M243.25 39h1.5M248.25 39h1.5M250.25 39h1.5M256.25 39h3M259.75 39h1.5M262.25 39h4.5M268.75 39h2M271.25 39h3M280.25 39h3M286.25 39h1.5M288.25 39h1.5M293.25 39h3M297.25 39h2M304.75 39h3M308.25 39h1.5M310.25 39h4M317.75 39h4.5M73.75 39.5h1.5M78.75 39.5h1.5M82.75 39.5h1.5M85.75 39.5h1.5M87.75 39.5h1.5M91.75 39.5h1.5M97.25 39.5h2M100.75 39.5h4.5M106.75 39.5h1.5M110.75 39.5h1.5M112.75 39.5h1.5M117.25 39.5h1.5M119.25 39.5h3M123.75 39.5h1.5M126.25 39.5h2M134.25 39.5h1.5M137.25 39.5h3M143.25 39.5h1.5M145.75 39.5h1.5M153.25 39.5h3.5M158.75 39.5h1.5M166.75 39.5h1.5M171.25 39.5h1.5M180.25 39.5h2.5M186.25 39.5h1.5M191.75 39.5h1.5M196.25 39.5h1.5M198.75 39.5h1.5M202.25 39.5h1.5M205.75 39.5h1.5M210.75 39.5h2.5M220.25 39.5h2M225.75 39.5h1.5M246.25 39.5h2.5M252.25 39.5h1.5M260.75 39.5h1.5M274.25 39.5h2.5M279.25 39.5h2.5M288.75 39.5h3M294.75 39.5h1.5M298.25 39.5h2.5M304.25 39.5h1.5M308.25 39.5h3M313.25 39.5h1.5M323.25 39.5h1.5M66.25 40h1.5M74.75 40h1.5M79.75 40h1.5M83.25 40h2M85.75 40h1.5M88.25 40h1.5M93.75 40h1.5M97.75 40h2M102.75 40h3.5M106.75 40h4.5M115.25 40h3.5M121.75 40h3M125.25 40h1.5M129.25 40h1.5M134.75 40h1.5M137.75 40h1.5M139.75 40h1.5M143.25 40h1.5M150.75 40h1.5M159.25 40h1.5M165.25 40h1.5M170.75 40h1.5M177.25 40h2.5M180.25 40h1.5M186.75 40h4M192.75 40h1.5M200.75 40h1.5M205.25 40h2M217.75 40h2M223.25 40h1.5M226.25 40h5.5M237.75 40h3M244.25 40h1.5M247.25 40h1.5M250.75 40h3.5M255.25 40h2.5M260.25 40h1.5M268.75 40h1.5M270.75 40h1.5M273.25 40h2M279.25 40h3M282.75 40h1.5M286.75 40h1.5M289.25 40h1.5M293.25 40h2.5M297.75 40h3.5M301.75 40h1.5M307.75 40h1.5M310.75 40h2M316.75 40h1.5M64.25 40.5h2M66.75 40.5h4M71.75 40.5h1.5M73.75 40.5h1.5M76.25 40.5h1.5M80.25 40.5h1.5M88.75 40.5h1.5M100.75 40.5h2M109.75 40.5h1.5M111.75 40.5h1.5M116.75 40.5h2.5M122.25 40.5h4M138.25 40.5h1.5M141.75 40.5h1.5M146.25 40.5h3M152.75 40.5h1.5M154.75 40.5h1.5M159.25 40.5h1.5M162.25 40.5h1.5M169.25 40.5h1.5M175.75 40.5h1.5M180.75 40.5h1.5M186.75 40.5h2.5M190.75 40.5h2.5M194.25 40.5h2.5M200.75 40.5h1.5M208.75 40.5h2M212.75 40.5h3.5M219.25 40.5h2M223.75 40.5h3M237.75 40.5h1.5M243.25 40.5h1.5M247.75 40.5h1.5M250.75 40.5h1.5M252.75 40.5h1.5M256.75 40.5h1.5M259.25 40.5h1.5M268.75 40.5h4M274.75 40.5h3M284.25 40.5h4M289.25 40.5h3M293.25 40.5h2M297.75 40.5h2.5M301.75 40.5h1.5M304.25 40.5h1.5M308.75 40.5h2M312.25 40.5h1.5M325.75 40.5h1.5M64.25 41h2M77.75 41h1.5M87.25 41h2.5M91.75 41h2.5M98.25 41h1.5M104.75 41h1.5M107.25 41h1.5M109.75 41h2.5M115.75 41h1.5M119.75 41h3M124.25 41h1.5M128.25 41h3M132.25 41h2.5M135.75 41h2M138.75 41h1.5M148.25 41h1.5M166.25 41h1.5M168.75 41h1.5M171.25 41h2.5M174.25 41h5.5M186.75 41h3.5M194.75 41h2M198.75 41h1.5M208.75 41h2.5M214.25 41h1.5M219.25 41h1.5M223.75 41h3M241.75 41h1.5M246.75 41h1.5M250.25 41h1.5M257.75 41h4M278.75 41h1.5M283.75 41h3.5M290.75 41h1.5M295.75 41h3M305.25 41h4.5M311.25 41h2.5M318.75 41h1.5M322.75 41h1.5M325.25 41h1.5M61.25 41.5h1.5M67.75 41.5h1.5M73.75 41.5h1.5M81.75 41.5h1.5M95.75 41.5h2M107.25 41.5h1.5M111.25 41.5h1.5M113.25 41.5h1.5M117.75 41.5h1.5M119.75 41.5h3.5M126.75 41.5h1.5M129.25 41.5h3M140.25 41.5h5.5M146.25 41.5h1.5M149.75 41.5h1.5M154.25 41.5h2.5M159.25 41.5h2M162.75 41.5h1.5M173.25 41.5h7.5M185.75 41.5h1.5M193.25 41.5h1.5M200.25 41.5h3.5M206.75 41.5h1.5M215.25 41.5h2M219.25 41.5h1.5M221.25 41.5h1.5M233.75 41.5h3M238.75 41.5h1.5M240.75 41.5h2.5M246.75 41.5h2.5M251.75 41.5h2M255.75 41.5h4M261.75 41.5h1.5M279.25 41.5h1.5M289.75 41.5h4.5M301.25 41.5h2M311.25 41.5h4.5M316.25 41.5h1.5M321.25 41.5h1.5M325.25 41.5h1.5M64.75 42h1.5M69.25 42h1.5M73.25 42h1.5M75.25 42h1.5M78.75 42h1.5M84.25 42h2.5M91.25 42h2.5M97.75 42h1.5M102.75 42h2.5M106.75 42h1.5M109.75 42h1.5M113.25 42h1.5M116.25 42h2M119.25 42h1.5M121.25 42h5.5M133.75 42h2.5M138.25 42h1.5M145.75 42h1.5M150.25 42h2.5M153.75 42h3.5M157.75 42h1.5M162.25 42h1.5M166.75 42h1.5M172.75 42h1.5M181.75 42h4M188.75 42h1.5M193.25 42h1.5M196.25 42h1.5M199.75 42h1.5M204.75 42h1.5M210.25 42h1.5M213.75 42h1.5M216.25 42h1.5M219.75 42h3M231.75 42h1.5M236.75 42h3.5M243.25 42h2.5M250.75 42h1.5M253.25 42h1.5M261.25 42h1.5M264.25 42h1.5M269.25 42h1.5M276.75 42h1.5M280.75 42h2.5M287.25 42h1.5M289.25 42h1.5M297.25 42h1.5M301.75 42h1.5M306.25 42h2M310.75 42h1.5M320.75 42h3M324.25 42h1.5M65.75 42.5h1.5M77.25 42.5h1.5M79.25 42.5h1.5M82.25 42.5h3M86.25 42.5h1.5M90.25 42.5h1.5M92.75 42.5h3M96.25 42.5h1.5M98.25 42.5h1.5M105.75 42.5h1.5M108.75 42.5h1.5M113.25 42.5h1.5M117.75 42.5h3M121.25 42.5h1.5M126.25 42.5h2M130.75 42.5h1.5M133.25 42.5h1.5M139.25 42.5h1.5M144.75 42.5h1.5M156.25 42.5h1.5M161.25 42.5h1.5M163.25 42.5h1.5M169.75 42.5h1.5M176.25 42.5h1.5M178.75 42.5h1.5M186.25 42.5h3.5M190.25 42.5h1.5M192.25 42.5h1.5M195.75 42.5h3M200.75 42.5h1.5M208.75 42.5h1.5M210.75 42.5h1.5M215.25 42.5h1.5M217.75 42.5h1.5M224.25 42.5h1.5M228.75 42.5h2M232.25 42.5h2M261.25 42.5h1.5M269.75 42.5h3.5M273.75 42.5h1.5M280.25 42.5h1.5M285.25 42.5h1.5M293.25 42.5h3M298.75 42.5h1.5M300.75 42.5h1.5M313.75 42.5h1.5M318.25 42.5h1.5M320.75 42.5h6.5M71.25 43h3M80.25 43h2.5M86.25 43h1.5M88.75 43h2.5M92.75 43h2M96.25 43h3M99.75 43h1.5M104.25 43h1.5M106.75 43h3M111.25 43h1.5M113.75 43h3M119.25 43h1.5M124.25 43h1.5M129.75 43h1.5M135.25 43h1.5M138.75 43h1.5M141.75 43h3M145.75 43h1.5M159.25 43h1.5M161.75 43h1.5M166.75 43h1.5M173.25 43h2.5M177.75 43h2M191.75 43h1.5M194.75 43h1.5M204.75 43h1.5M207.25 43h1.5M209.75 43h1.5M215.25 43h1.5M220.25 43h1.5M226.75 43h1.5M232.75 43h3M238.75 43h1.5M241.25 43h1.5M243.75 43h1.5M247.25 43h1.5M254.75 43h1.5M273.25 43h1.5M275.25 43h3M281.25 43h1.5M289.75 43h1.5M294.75 43h2.5M299.25 43h1.5M303.25 43h1.5M307.25 43h2.5M316.75 43h2.5M65.75 43.5h2M70.75 43.5h1.5M73.75 43.5h1.5M75.75 43.5h1.5M78.25 43.5h2.5M83.75 43.5h1.5M88.75 43.5h1.5M94.25 43.5h1.5M98.25 43.5h1.5M101.25 43.5h1.5M107.25 43.5h1.5M116.75 43.5h2.5M122.25 43.5h1.5M125.75 43.5h2.5M128.75 43.5h2.5M135.75 43.5h1.5M137.75 43.5h2M148.25 43.5h1.5M151.25 43.5h1.5M158.25 43.5h1.5M164.75 43.5h3M182.25 43.5h1.5M197.25 43.5h1.5M205.25 43.5h1.5M225.25 43.5h1.5M228.25 43.5h1.5M244.75 43.5h1.5M247.75 43.5h1.5M259.25 43.5h3.5M270.75 43.5h1.5M275.75 43.5h1.5M278.75 43.5h1.5M286.25 43.5h1.5M302.75 43.5h1.5M305.75 43.5h1.5M308.75 43.5h1.5M311.75 43.5h1.5M322.25 43.5h2.5M61.25 44h1.5M66.25 44h1.5M69.25 44h1.5M75.75 44h1.5M78.75 44h2.5M81.75 44h2.5M89.75 44h2M104.25 44h1.5M108.25 44h1.5M112.25 44h1.5M122.25 44h2.5M126.75 44h1.5M130.25 44h1.5M135.75 44h1.5M141.75 44h1.5M157.75 44h1.5M160.25 44h2M171.25 44h1.5M180.75 44h2M191.25 44h1.5M194.25 44h1.5M203.75 44h1.5M214.75 44h1.5M228.25 44h1.5M231.75 44h1.5M238.75 44h3M242.25 44h1.5M247.25 44h1.5M253.25 44h2.5M275.25 44h1.5M280.25 44h1.5M283.75 44h1.5M315.75 44h1.5M321.25 44h1.5M73.25 44.5h3M80.75 44.5h1.5M87.25 44.5h1.5M91.75 44.5h1.5M94.25 44.5h1.5M97.25 44.5h3.5M102.25 44.5h7.5M115.75 44.5h3M123.25 44.5h3M131.25 44.5h2.5M134.25 44.5h2M136.75 44.5h1.5M145.75 44.5h1.5M150.75 44.5h1.5M153.25 44.5h3M162.75 44.5h1.5M182.25 44.5h1.5M199.25 44.5h1.5M213.75 44.5h1.5M217.75 44.5h1.5M230.25 44.5h5M246.25 44.5h1.5M250.75 44.5h1.5M257.25 44.5h1.5M261.75 44.5h2M265.25 44.5h1.5M268.25 44.5h1.5M271.75 44.5h1.5M273.75 44.5h1.5M278.25 44.5h1.5M62.75 45h1.5M66.75 45h1.5M68.75 45h3M74.75 45h1.5M84.25 45h1.5M88.25 45h1.5M93.25 45h4M97.75 45h1.5M100.75 45h1.5M105.25 45h2.5M109.25 45h3M114.25 45h3M121.75 45h1.5M128.25 45h1.5M131.75 45h1.5M141.75 45h1.5M143.75 45h2M146.25 45h1.5M155.25 45h1.5M167.75 45h1.5M171.25 45h1.5M173.75 45h1.5M177.75 45h1.5M188.25 45h1.5M198.25 45h1.5M203.25 45h1.5M209.75 45h1.5M219.75 45h1.5M227.25 45h1.5M245.75 45h1.5M262.25 45h1.5M264.25 45h1.5M275.75 45h1.5M279.25 45h2M288.25 45h1.5M298.75 45h1.5M310.25 45h1.5M66.25 45.5h1.5M74.25 45.5h1.5M78.25 45.5h4M84.75 45.5h1.5M86.75 45.5h1.5M89.25 45.5h1.5M91.25 45.5h1.5M93.25 45.5h1.5M99.75 45.5h2.5M105.25 45.5h1.5M114.75 45.5h1.5M121.25 45.5h1.5M134.25 45.5h1.5M136.25 45.5h1.5M138.25 45.5h1.5M145.25 45.5h1.5M158.75 45.5h1.5M163.25 45.5h1.5M207.75 45.5h2M230.25 45.5h1.5M274.25 45.5h1.5M290.75 45.5h1.5M296.25 45.5h1.5M304.25 45.5h1.5M317.25 45.5h1.5M62.75 46h1.5M64.75 46h1.5M68.75 46h3M74.75 46h3M78.75 46h1.5M84.25 46h1.5M88.75 46h1.5M92.75 46h5M101.75 46h2.5M108.25 46h1.5M117.25 46h1.5M120.75 46h1.5M148.75 46h1.5M165.75 46h1.5M178.25 46h1.5M187.75 46h1.5M196.75 46h1.5M210.75 46h1.5M229.25 46h1.5M239.75 46h1.5M241.75 46h1.5M246.25 46h1.5M250.25 46h1.5M270.25 46h2.5M287.25 46h3M300.25 46h2.5M315.75 46h1.5M320.25 46h1.5M61.75 46.5h1.5M74.75 46.5h2M78.25 46.5h1.5M84.75 46.5h1.5M86.75 46.5h1.5M89.25 46.5h1.5M97.75 46.5h2.5M101.25 46.5h1.5M103.25 46.5h1.5M112.25 46.5h3M115.75 46.5h1.5M120.25 46.5h1.5M192.75 46.5h1.5M202.75 46.5h1.5M215.25 46.5h1.5M251.75 46.5h1.5M283.25 46.5h2.5M288.75 46.5h2.5M298.75 46.5h1.5M317.25 46.5h1.5M62.25 47h1.5M77.25 47h1.5M80.25 47h1.5M83.75 47h2M86.25 47h5M93.75 47h3M97.25 47h4.5M107.75 47h1.5M113.75 47h1.5M118.25 47h1.5M127.25 47h1.5M129.25 47h2M131.75 47h1.5M181.25 47h1.5M191.25 47h1.5M193.25 47h3M213.75 47h1.5M216.25 47h3M262.25 47h1.5M290.75 47h1.5M304.25 47h1.5M60.75 47.5h1.5M66.25 47.5h1.5M75.75 47.5h2.5M84.75 47.5h1.5M86.75 47.5h2.5M89.75 47.5h1.5M92.25 47.5h4M96.75 47.5h1.5M99.25 47.5h1.5M105.25 47.5h1.5M112.25 47.5h2M116.25 47.5h1.5M118.25 47.5h1.5M130.75 47.5h1.5M140.75 47.5h1.5M201.75 47.5h1.5M245.75 47.5h2M280.75 47.5h1.5M297.25 47.5h1.5M67.25 48h2.5M72.25 48h1.5M75.25 48h1.5M77.25 48h1.5M85.75 48h1.5M91.75 48h1.5M94.25 48h2M97.25 48h1.5M101.75 48h1.5M106.75 48h1.5M110.25 48h1.5M112.25 48h1.5M119.75 48h2.5M122.75 48h1.5M125.75 48h1.5M134.75 48h1.5M143.75 48h1.5M243.75 48h1.5M253.25 48h1.5M257.25 48h1.5M267.75 48h1.5M274.75 48h1.5M325.75 48h1.5M62.25 48.5h1.5M64.75 48.5h1.5M72.25 48.5h1.5M78.75 48.5h2.5M84.75 48.5h2M87.25 48.5h1.5M89.75 48.5h1.5M92.75 48.5h2.5M112.25 48.5h2.5M115.25 48.5h1.5M129.75 48.5h2M154.75 48.5h1.5M228.25 48.5h1.5M284.75 48.5h1.5M62.75 49h1.5M71.75 49h1.5M79.75 49h1.5M83.25 49h1.5M86.75 49h1.5M96.75 49h1.5M98.75 49h1.5M101.75 49h1.5M105.25 49h1.5M114.25 49h1.5M126.25 49h1.5M130.75 49h1.5M151.25 49h1.5M217.25 49h1.5M242.75 49h1.5M253.25 49h1.5M265.25 49h1.5M271.25 49h1.5M70.25 49.5h2.5M80.75 49.5h3M87.75 49.5h4M94.25 49.5h2.5M111.25 49.5h1.5M63.75 50h4.5M69.75 50h1.5M71.75 50h1.5M74.75 50h1.5M77.75 50h2.5M81.25 50h2.5M86.75 50h1.5M101.25 50h1.5M105.25 50h2M112.25 50h1.5M143.25 50h1.5M222.75 50h1.5M312.75 50h1.5M64.75 50.5h1.5M66.75 50.5h1.5M70.25 50.5h2M73.75 50.5h1.5M76.75 50.5h2M82.25 50.5h3M87.75 50.5h1.5M103.25 50.5h1.5M63.75 51h1.5M68.25 51h1.5M77.75 51h1.5M91.75 51h1.5M94.25 51h1.5M96.25 51h2M98.75 51h1.5M249.25 51h1.5M262.25 51h1.5M61.75 51.5h1.5M63.75 51.5h1.5M67.25 51.5h1.5M74.25 51.5h1.5M76.25 51.5h2M80.25 51.5h2M90.75 51.5h1.5M92.75 51.5h1.5M111.25 51.5h1.5M178.25 51.5h1.5M308.25 51.5h1.5M74.75 52h2.5M80.25 52h1.5M83.25 52h1.5M99.25 52h2M112.75 52h1.5M120.25 52h1.5M68.75 52.5h2.5M72.25 52.5h2.5M75.75 52.5h1.5M84.25 52.5h3M89.25 52.5h2.5M95.25 52.5h1.5M108.75 52.5h2.5M283.25 52.5h1.5M63.75 53h2M67.25 53h1.5M69.25 53h1.5M73.75 53h1.5M76.25 53h1.5M80.75 53h1.5M95.25 53h1.5M98.25 53h1.5M102.25 53h1.5M180.75 53h1.5M282.75 53h1.5M59.25 53.5h2M64.75 53.5h1.5M68.75 53.5h1.5M73.75 53.5h1.5M83.25 53.5h1.5M92.25 53.5h1.5M94.25 53.5h1.5M96.25 53.5h1.5M107.25 53.5h1.5M303.75 53.5h1.5M57.25 54h1.5M60.75 54h2.5M73.25 54h2.5M79.25 54h1.5M82.75 54h1.5M85.25 54h1.5M89.25 54h1.5M145.25 54h1.5M305.75 54h1.5M59.25 54.5h1.5M61.25 54.5h3M64.75 54.5h3M70.25 54.5h4.5M77.75 54.5h1.5M79.75 54.5h3M90.25 54.5h3M119.75 54.5h1.5M63.75 55h1.5M66.25 55h1.5M68.25 55h3M72.75 55h1.5M75.75 55h1.5M83.25 55h1.5M85.25 55h1.5M110.75 55h1.5M130.25 55h1.5M82.75 55.5h2M59.25 56h1.5M65.75 56h1.5M73.75 56h1.5M79.25 56h1.5M81.25 56h1.5M94.75 56h1.5M60.25 56.5h1.5M71.25 56.5h1.5M73.25 56.5h2.5M83.75 56.5h1.5M88.75 56.5h1.5M58.25 57h1.5M65.75 57h1.5M68.25 57h1.5M70.25 57h1.5M72.25 57h1.5M77.25 57h2.5M80.75 57h1.5M82.75 57h1.5M255.75 57h1.5M63.25 57.5h4M69.25 57.5h1.5M74.75 57.5h2M87.25 57.5h1.5M98.75 57.5h1.5M100.75 57.5h1.5M62.25 58h1.5M65.25 58h1.5M74.25 58h3.5M68.25 58.5h4.5M78.25 58.5h1.5M80.25 58.5h2M83.75 58.5h1.5M91.25 58.5h1.5M99.75 58.5h1.5M106.75 58.5h1.5M59.25 59h1.5M62.25 59h3.5M66.75 59h1.5M70.75 59h1.5M75.25 59h1.5M79.75 59h1.5M83.25 59h1.5M57.75 59.5h1.5M59.75 59.5h1.5M94.75 59.5h1.5M314.25 59.5h1.5M68.25 60h1.5M70.25 60h2.5M77.25 60h2.5M69.25 60.5h1.5M71.75 60.5h1.5M80.25 60.5h1.5M57.25 61h1.5M63.25 61h1.5M67.25 61h3.5M59.75 61.5h3M64.25 61.5h1.5M69.75 61.5h1.5M75.25 61.5h1.5M58.25 62h1.5M60.75 62h1.5M62.75 62h1.5M66.25 62h1.5M74.25 62h1.5M302.75 62h1.5M58.75 62.5h1.5M65.25 62.5h2M54.75 63h1.5M60.25 63h1.5M64.25 63h3M70.25 63h2M59.75 63.5h2.5M63.25 63.5h1.5M65.25 63.5h1.5M61.25 64h1.5M64.75 64h1.5M69.25 64h3M60.75 64.5h6.5M56.75 65h3M65.25 65h1.5M72.75 65h1.5M69.25 65.5h1.5M73.25 65.5h1.5M61.75 66h1.5M69.75 66h1.5M59.75 66.5h2.5M57.25 67h1.5M61.75 67h2.5M58.75 67.5h1.5M62.75 67.5h1.5M58.75 68h1.5M61.75 68h1.5M63.75 68h1.5M56.75 68.5h1.5M62.75 68.5h1.5M59.75 69h1.5M61.75 69h1.5M76.25 69h1.5M60.25 69.5h2M63.75 69.5h3.5M74.25 69.5h1.5M55.25 70h5.5M55.75 70.5h1.5M61.25 70.5h1.5M57.75 71h1.5M61.25 71h2.5M65.25 71h1.5M56.75 71.5h1.5M60.75 71.5h1.5M55.75 72h1.5M59.75 72h3M58.75 72.5h3M60.25 73h2.5M55.25 73.5h1.5M58.25 73.5h1.5M55.75 74h1.5M59.75 74h1.5M63.25 74h1.5M55.75 74.5h2M55.75 75h1.5M60.25 75h1.5M57.75 75.5h1.5M62.25 75.5h1.5M58.75 76h1.5M60.75 76h1.5M56.75 76.5h3M59.25 77h1.5M55.25 77.5h1.5M57.75 77.5h1.5M56.25 78.5h3M62.25 78.5h1.5M56.25 79h2.5M56.25 80h2M58.75 80h1.5M55.75 80.5h1.5M57.25 81h1.5M56.25 81.5h1.5M58.75 81.5h3M55.25 82h1.5M57.25 82h1.5M59.75 82h1.5M62.25 82.5h1.5M56.25 83h1.5M60.25 83h1.5M56.25 83.5h1.5M56.75 84h1.5M55.25 84.5h1.5M57.75 84.5h1.5M54.75 85h1.5M56.25 86.5h1.5M57.75 87h1.5M57.25 88h1.5M52.25 89.5h1.5M54.25 89.5h1.5M57.25 90.5h1.5M59.25 91h1.5M55.25 91.5h1.5M55.75 92h2M56.75 92.5h1.5M55.75 93h1.5M55.25 94.5h2.5M57.25 95h1.5M55.75 95.5h1.5M52.25 98.5h1.5M54.75 100.5h1.5M53.25 101.5h3.5M54.25 102.5h2M52.75 103h1.5M54.25 106h2M53.75 106.5h1.5M53.75 108h1.5M54.75 109h1.5M52.75 109.5h1.5M53.25 110h2.5M53.75 113.5h1.5M54.25 114h1.5M54.75 115.5h1.5M52.75 116h2M54.25 116.5h1.5M54.75 117h1.5M54.25 119h1.5M53.75 120h1.5M51.75 122h2M52.25 122.5h1.5M54.75 123h1.5M53.75 125.5h2.5M52.75 126.5h1.5M52.25 128.5h1.5M53.25 129.5h1.5M52.25 130.5h1.5M51.25 132h1.5M51.75 132.5h1.5M53.75 133h1.5M52.75 133.5h1.5M52.75 135h1.5M55.25 135h1.5M51.25 136.5h1.5M52.75 137h1.5M52.25 138.5h1.5M53.75 139h1.5M51.25 141h1.5M51.75 144.5h1.5M53.25 145h1.5M50.75 148.5h2M51.75 149.5h1.5M53.75 149.5h1.5M51.75 152.5h1.5M50.75 153h2M51.25 158.5h3M51.75 161h1.5M50.75 163.5h1.5M52.25 167h1.5M50.25 168.5h1.5M50.25 169.5h1.5M50.75 170h3.5M51.25 172.5h1.5M51.75 174.5h1.5M50.25 177.5h2.5M50.75 179h2.5M52.25 181h1.5M50.25 182.5h1.5M51.25 184.5h1.5M51.25 186h1.5M50.25 187h1.5M48.75 188.5h1.5M49.75 189h1.5M50.25 190h1.5M48.75 191.5h1.5M48.75 193.5h1.5M50.75 193.5h1.5M49.75 196.5h1.5M50.75 197h1.5M49.75 198h1.5M49.25 199h1.5M50.25 200h2M49.75 202.5h1.5M50.75 203.5h1.5M48.75 204h1.5M48.25 204.5h1.5M49.75 205h1.5M49.25 208h1.5M49.75 209h1.5M48.25 212.5h1.5M48.75 215h1.5M48.25 215.5h1.5M48.25 217.5h1.5M46.25 220.5h7" fill="none" stroke="#dadada" stroke-width="1.5"/>
<path d="M513.25 18.5h1.5M628.25 18.5h1.5M634.75 18.5h1.5M659.25 18.5h1.5M661.25 18.5h1.5M631.25 19.5h1.5M627.25 20h1.5M540.75 20.5h1.5M586.25 20.5h1.5M616.75 20.5h1.5M618.75 20.5h3M510.75 21h1.5M588.25 21h1.5M590.75 21h1.5M610.25 21h1.5M613.25 21h1.5M633.25 21h1.5M547.25 21.5h1.5M581.75 21.5h1.5M598.25 21.5h1.5M614.75 21.5h1.5M490.75 22h1.5M573.75 22h1.5M578.25 22h1.5M587.25 22h1.5M600.25 22h1.5M619.75 22h1.5M629.75 22h2M645.25 22h1.5M656.75 22h1.5M519.75 22.5h1.5M536.25 22.5h1.5M539.25 22.5h1.5M550.75 22.5h1.5M566.25 22.5h1.5M582.75 22.5h2M616.25 22.5h1.5M622.75 22.5h1.5M633.25 22.5h1.5M660.75 22.5h1.5M474.25 23h1.5M479.75 23h1.5M540.25 23h1.5M554.25 23h1.5M575.25 23h1.5M592.25 23h1.5M597.75 23h1.5M600.75 23h1.5M605.25 23h1.5M614.25 23h1.5M627.75 23h1.5M631.75 23h1.5M648.25 23h1.5M656.25 23h2M666.25 23h1.5M473.25 23.5h1.5M490.75 23.5h1.5M501.25 23.5h1.5M534.75 23.5h3M551.75 23.5h1.5M554.75 23.5h1.5M556.75 23.5h1.5M562.75 23.5h2M609.25 23.5h1.5M621.25 23.5h1.5M624.25 23.5h1.5M646.75 23.5h1.5M652.25 23.5h1.5M657.25 23.5h2M660.25 23.5h1.5M662.25 23.5h2M666.75 23.5h1.5M476.75 24h2.5M484.25 24h2.5M487.75 24h1.5M490.25 24h1.5M518.25 24h1.5M521.75 24h1.5M529.75 24h1.5M544.25 24h1.5M556.75 24h1.5M577.25 24h3M586.75 24h1.5M593.25 24h1.5M601.75 24h1.5M603.75 24h1.5M614.75 24h2M629.75 24h3M638.25 24h1.5M642.75 24h1.5M644.75 24h1.5M649.25 24h1.5M661.25 24h1.5M475.75 24.5h1.5M495.25 24.5h1.5M523.25 24.5h1.5M536.75 24.5h3M549.75 24.5h1.5M553.25 24.5h1.5M559.25 24.5h1.5M565.75 24.5h1.5M568.75 24.5h1.5M573.25 24.5h1.5M576.25 24.5h1.5M585.25 24.5h1.5M591.25 24.5h1.5M607.25 24.5h3M610.75 24.5h1.5M613.75 24.5h1.5M616.25 24.5h1.5M628.75 24.5h1.5M634.75 24.5h1.5M637.75 24.5h1.5M642.75 24.5h1.5M648.25 24.5h1.5M660.75 24.5h1.5M667.25 24.5h1.5M441.75 25h1.5M455.75 25h1.5M495.25 25h1.5M500.25 25h1.5M504.75 25h1.5M509.75 25h1.5M519.75 25h1.5M523.75 25h5.5M531.25 25h1.5M534.25 25h1.5M539.75 25h1.5M542.25 25h3M546.25 25h1.5M551.75 25h3M562.25 25h3M565.75 25h1.5M583.25 25h3.5M591.25 25h1.5M595.25 25h1.5M608.75 25h2M613.75 25h1.5M615.75 25h1.5M618.25 25h3M624.75 25h1.5M629.25 25h1.5M638.75 25h1.5M647.75 25h1.5M652.75 25h1.5M657.75 25h3M663.25 25h2.5M667.75 25h1.5M470.75 25.5h1.5M472.75 25.5h2M476.25 25.5h1.5M513.75 25.5h1.5M517.25 25.5h1.5M526.75 25.5h1.5M550.25 25.5h1.5M553.75 25.5h1.5M557.75 25.5h1.5M559.75 25.5h3M565.25 25.5h1.5M571.25 25.5h1.5M575.25 25.5h2M577.75 25.5h3.5M585.75 25.5h1.5M590.25 25.5h1.5M596.75 25.5h2M599.25 25.5h1.5M605.75 25.5h1.5M611.75 25.5h2.5M616.25 25.5h1.5M622.25 25.5h1.5M625.25 25.5h1.5M627.25 25.5h1.5M633.25 25.5h1.5M644.25 25.5h1.5M649.75 25.5h1.5M651.75 25.5h3M657.75 25.5h2M661.75 25.5h1.5M664.75 25.5h1.5M667.75 25.5h1.5M468.25 26h1.5M484.25 26h1.5M489.75 26h1.5M493.25 26h3M519.25 26h2M522.75 26h1.5M525.75 26h1.5M532.25 26h5M538.75 26h1.5M544.75 26h1.5M549.75 26h1.5M551.75 26h3.5M562.75 26h1.5M572.75 26h1.5M576.75 26h1.5M590.75 26h1.5M593.75 26h3.5M602.25 26h1.5M609.25 26h1.5M612.25 26h1.5M617.75 26h1.5M621.75 26h3M629.25 26h2M633.75 26h4.5M644.75 26h1.5M647.25 26h1.5M662.25 26h1.5M459.25 26.5h1.5M468.75 26.5h1.5M471.75 26.5h1.5M473.75 26.5h1.5M484.25 26.5h2M490.25 26.5h1.5M494.25 26.5h4M505.25 26.5h1.5M508.75 26.5h1.5M510.75 26.5h2.5M528.75 26.5h1.5M532.75 26.5h1.5M542.75 26.5h1.5M547.75 26.5h1.5M555.75 26.5h1.5M557.75 26.5h1.5M560.25 26.5h3M565.75 26.5h2.5M568.75 26.5h1.5M573.75 26.5h2M588.75 26.5h1.5M591.25 26.5h1.5M595.25 26.5h1.5M598.25 26.5h1.5M601.25 26.5h1.5M603.75 26.5h2M606.25 26.5h3.5M613.75 26.5h1.5M620.75 26.5h1.5M624.75 26.5h3M629.75 26.5h1.5M637.75 26.5h4M644.75 26.5h1.5M648.75 26.5h1.5M651.25 26.5h1.5M654.25 26.5h1.5M660.25 26.5h1.5M663.75 26.5h2M667.25 26.5h1.5M450.25 27h1.5M460.75 27h1.5M470.75 27h2.5M473.75 27h1.5M475.75 27h1.5M478.25 27h2.5M481.25 27h1.5M488.75 27h2.5M500.75 27h3M505.75 27h1.5M508.25 27h3M518.75 27h1.5M523.25 27h1.5M530.75 27h1.5M537.25 27h1.5M549.25 27h3M561.25 27h2.5M566.25 27h1.5M569.25 27h1.5M573.75 27h3M581.25 27h2M586.75 27h1.5M590.25 27h1.5M592.25 27h2M594.75 27h1.5M596.75 27h1.5M602.75 27h1.5M609.25 27h1.5M612.75 27h2.5M619.75 27h1.5M623.25 27h2.5M632.75 27h1.5M634.75 27h1.5M636.75 27h2.5M641.75 27h4.5M648.75 27h2M653.25 27h1.5M659.75 27h1.5M432.75 27.5h1.5M471.25 27.5h1.5M490.25 27.5h1.5M506.25 27.5h3M513.25 27.5h3M516.75 27.5h4.5M524.25 27.5h1.5M528.75 27.5h1.5M532.25 27.5h1.5M535.75 27.5h1.5M541.75 27.5h1.5M547.25 27.5h4M554.75 27.5h1.5M558.75 27.5h2.5M561.75 27.5h2M570.25 27.5h1.5M579.75 27.5h2.5M584.25 27.5h3M589.75 27.5h1.5M591.75 27.5h1.5M599.25 27.5h4.5M606.25 27.5h1.5M613.75 27.5h2M617.75 27.5h2M620.25 27.5h2.5M624.75 27.5h1.5M626.75 27.5h1.5M631.75 27.5h2M634.25 27.5h1.5M636.25 27.5h1.5M638.25 27.5h1.5M640.25 27.5h1.5M642.75 27.5h3M647.25 27.5h1.5M656.75 27.5h1.5M659.25 27.5h1.5M665.75 27.5h1.5M667.75 27.5h1.5M439.75 28h1.5M444.25 28h1.5M446.75 28h2.5M469.75 28h1.5M475.25 28h1.5M480.25 28h3.5M485.25 28h2M492.25 28h1.5M500.75 28h2M511.25 28h1.5M515.75 28h3M525.75 28h1.5M527.75 28h3M533.75 28h2.5M537.75 28h2.5M543.25 28h1.5M547.25 28h3.5M551.25 28h4.5M556.25 28h1.5M562.75 28h2.5M567.25 28h2M572.25 28h1.5M576.75 28h1.5M579.75 28h1.5M585.25 28h1.5M589.75 28h1.5M593.75 28h1.5M595.75 28h1.5M598.75 28h1.5M601.75 28h1.5M604.75 28h1.5M606.75 28h2.5M610.25 28h1.5M617.75 28h1.5M620.75 28h1.5M622.75 28h2M625.75 28h1.5M630.25 28h1.5M633.75 28h1.5M635.75 28h1.5M644.25 28h1.5M651.25 28h3M657.25 28h2M663.75 28h1.5M450.75 28.5h1.5M457.75 28.5h1.5M461.75 28.5h2.5M465.25 28.5h4.5M470.75 28.5h3M480.75 28.5h1.5M483.25 28.5h1.5M486.25 28.5h2M489.75 28.5h2.5M494.25 28.5h1.5M496.75 28.5h1.5M501.25 28.5h1.5M504.25 28.5h1.5M514.25 28.5h1.5M521.75 28.5h3.5M527.75 28.5h3M534.25 28.5h1.5M537.75 28.5h2.5M544.75 28.5h1.5M548.25 28.5h1.5M552.75 28.5h1.5M554.75 28.5h1.5M561.25 28.5h1.5M575.75 28.5h1.5M578.75 28.5h1.5M585.25 28.5h1.5M590.25 28.5h1.5M592.75 28.5h1.5M594.75 28.5h2M599.25 28.5h1.5M606.25 28.5h4M611.75 28.5h1.5M613.75 28.5h1.5M621.75 28.5h2.5M636.25 28.5h3M640.25 28.5h1.5M644.25 28.5h1.5M646.75 28.5h2.5M654.25 28.5h1.5M660.25 28.5h1.5M662.75 28.5h1.5M439.25 29h1.5M442.25 29h1.5M447.25 29h1.5M460.75 29h1.5M462.75 29h1.5M469.75 29h1.5M472.75 29h1.5M488.25 29h4M492.75 29h1.5M495.25 29h1.5M498.75 29h1.5M500.75 29h1.5M504.75 29h1.5M509.25 29h1.5M512.75 29h1.5M514.75 29h4M521.75 29h2.5M526.75 29h3M530.25 29h2.5M536.25 29h1.5M538.75 29h3M544.25 29h5.5M551.25 29h1.5M561.75 29h1.5M564.75 29h1.5M568.75 29h3M572.25 29h1.5M577.25 29h2.5M580.75 29h1.5M582.75 29h1.5M586.75 29h2.5M591.75 29h3M603.75 29h3M610.75 29h1.5M614.25 29h3.5M623.75 29h3M628.75 29h2.5M631.75 29h4M639.25 29h3.5M644.25 29h2M649.25 29h1.5M653.25 29h2M656.75 29h3.5M662.25 29h1.5M667.25 29h1.5M422.25 29.5h5M432.75 29.5h1.5M437.75 29.5h1.5M443.75 29.5h1.5M446.25 29.5h1.5M453.25 29.5h3M458.75 29.5h3M465.25 29.5h1.5M468.75 29.5h1.5M473.25 29.5h1.5M475.75 29.5h1.5M479.25 29.5h1.5M487.75 29.5h1.5M489.75 29.5h1.5M496.25 29.5h3.5M505.75 29.5h1.5M508.25 29.5h1.5M513.25 29.5h1.5M515.25 29.5h1.5M523.25 29.5h1.5M532.75 29.5h1.5M537.25 29.5h1.5M554.75 29.5h1.5M559.25 29.5h3M563.75 29.5h1.5M566.75 29.5h3M572.25 29.5h1.5M580.75 29.5h1.5M592.25 29.5h2M595.25 29.5h4M600.25 29.5h1.5M604.25 29.5h2M616.75 29.5h1.5M619.25 29.5h3M623.75 29.5h2M630.75 29.5h1.5M634.25 29.5h2.5M664.75 29.5h2M427.25 30h1.5M430.75 30h1.5M433.75 30h2.5M437.75 30h1.5M446.75 30h5.5M458.25 30h3M462.25 30h4.5M472.75 30h2.5M475.75 30h1.5M480.75 30h1.5M487.25 30h1.5M491.25 30h1.5M494.25 30h2.5M497.75 30h1.5M499.75 30h2M510.25 30h1.5M517.75 30h2.5M520.75 30h3M524.25 30h2.5M528.25 30h1.5M532.25 30h1.5M535.25 30h1.5M538.75 30h1.5M540.75 30h1.5M543.75 30h1.5M546.25 30h1.5M551.25 30h1.5M554.75 30h1.5M570.25 30h2.5M573.25 30h1.5M576.25 30h1.5M582.75 30h1.5M584.75 30h1.5M598.75 30h1.5M602.75 30h3.5M619.75 30h1.5M623.25 30h1.5M626.25 30h1.5M628.25 30h2M632.75 30h1.5M634.75 30h3M643.25 30h3M652.75 30h1.5M655.25 30h1.5M661.75 30h2M666.75 30h1.5M448.25 30.5h1.5M453.25 30.5h1.5M462.25 30.5h3M467.25 30.5h1.5M472.25 30.5h1.5M479.75 30.5h3M483.75 30.5h1.5M487.75 30.5h5.5M494.75 30.5h1.5M497.25 30.5h5M505.75 30.5h2.5M508.75 30.5h1.5M512.25 30.5h2.5M515.25 30.5h2.5M518.75 30.5h1.5M524.75 30.5h1.5M527.25 30.5h1.5M532.75 30.5h1.5M537.75 30.5h1.5M542.75 30.5h3.5M547.25 30.5h6M562.25 30.5h2.5M565.25 30.5h1.5M570.75 30.5h1.5M574.75 30.5h1.5M580.25 30.5h2M584.25 30.5h2M590.25 30.5h1.5M594.25 30.5h2M597.25 30.5h3M601.25 30.5h2M609.25 30.5h1.5M612.25 30.5h1.5M615.25 30.5h2M617.75 30.5h1.5M620.25 30.5h1.5M625.75 30.5h3M630.75 30.5h1.5M633.75 30.5h4.5M638.75 30.5h1.5M642.75 30.5h1.5M648.25 30.5h2M651.25 30.5h1.5M654.75 30.5h1.5M660.25 30.5h4.5M666.75 30.5h1.5M439.25 31h2.5M452.25 31h1.5M456.25 31h1.5M459.25 31h1.5M462.25 31h4M468.25 31h1.5M476.25 31h1.5M480.25 31h4M484.75 31h1.5M486.75 31h1.5M491.25 31h1.5M494.75 31h4M504.25 31h1.5M506.75 31h1.5M510.75 31h1.5M515.25 31h2.5M519.25 31h1.5M529.25 31h4M534.25 31h1.5M537.75 31h1.5M543.25 31h2.5M554.75 31h3.5M558.75 31h2M561.25 31h3M565.75 31h3.5M577.25 31h4.5M583.25 31h1.5M585.75 31h2M590.75 31h1.5M596.25 31h2.5M599.75 31h1.5M602.25 31h1.5M604.25 31h1.5M608.75 31h2.5M612.25 31h2.5M619.75 31h1.5M622.75 31h3M627.75 31h1.5M629.75 31h2.5M633.75 31h1.5M638.25 31h3M641.75 31h1.5M643.75 31h1.5M646.75 31h1.5M648.75 31h1.5M651.25 31h1.5M654.75 31h5M665.75 31h2.5M423.25 31.5h1.5M435.25 31.5h1.5M440.25 31.5h1.5M446.75 31.5h1.5M452.75 31.5h2M463.75 31.5h1.5M465.75 31.5h2.5M469.25 31.5h1.5M476.75 31.5h3M484.25 31.5h1.5M486.25 31.5h1.5M488.25 31.5h3M497.75 31.5h3M501.75 31.5h2.5M509.25 31.5h1.5M511.75 31.5h2.5M518.75 31.5h1.5M520.75 31.5h2.5M531.75 31.5h1.5M542.25 31.5h3.5M546.25 31.5h1.5M549.25 31.5h1.5M553.25 31.5h2.5M557.25 31.5h3.5M562.75 31.5h1.5M567.25 31.5h3M574.25 31.5h1.5M579.75 31.5h4M586.75 31.5h3.5M590.75 31.5h1.5M600.25 31.5h3.5M606.25 31.5h2M613.25 31.5h1.5M618.25 31.5h1.5M621.25 31.5h4.5M634.25 31.5h3M639.25 31.5h4M646.25 31.5h1.5M652.75 31.5h1.5M656.25 31.5h2M659.25 31.5h2.5M425.75 32h2.5M430.25 32h1.5M441.75 32h1.5M449.25 32h3M454.25 32h1.5M457.25 32h4.5M464.25 32h1.5M470.75 32h1.5M477.25 32h2.5M483.25 32h1.5M485.75 32h3M489.25 32h1.5M496.75 32h1.5M501.75 32h1.5M504.75 32h1.5M512.75 32h4.5M518.75 32h1.5M525.25 32h1.5M531.25 32h2M538.25 32h1.5M542.75 32h1.5M544.75 32h1.5M549.25 32h1.5M551.25 32h1.5M557.75 32h1.5M561.75 32h1.5M572.75 32h3M576.25 32h2M581.75 32h1.5M597.75 32h1.5M601.25 32h2.5M614.75 32h1.5M618.75 32h1.5M621.25 32h2M624.25 32h3M628.75 32h1.5M632.25 32h2M638.25 32h3M643.25 32h1.5M657.75 32h7.5M665.75 32h1.5M419.25 32.5h1.5M426.25 32.5h1.5M433.25 32.5h2M436.75 32.5h3M440.25 32.5h1.5M443.75 32.5h1.5M448.25 32.5h3M461.75 32.5h3M468.75 32.5h2.5M472.25 32.5h3.5M481.75 32.5h1.5M485.75 32.5h2.5M489.25 32.5h1.5M491.25 32.5h4M496.25 32.5h1.5M499.25 32.5h2.5M502.25 32.5h1.5M505.75 32.5h2M510.25 32.5h4.5M516.25 32.5h1.5M518.25 32.5h2.5M535.75 32.5h1.5M539.75 32.5h1.5M548.75 32.5h1.5M552.75 32.5h1.5M564.25 32.5h1.5M576.25 32.5h1.5M581.75 32.5h1.5M587.75 32.5h1.5M591.25 32.5h4.5M602.75 32.5h1.5M605.25 32.5h1.5M608.25 32.5h1.5M613.25 32.5h1.5M616.25 32.5h2.5M619.75 32.5h2.5M625.25 32.5h2M629.75 32.5h1.5M632.75 32.5h3M636.25 32.5h1.5M638.25 32.5h3M643.25 32.5h1.5M647.25 32.5h1.5M656.75 32.5h1.5M658.75 32.5h4.5M664.75 32.5h1.5M667.75 32.5h1.5M427.25 33h1.5M435.25 33h1.5M445.75 33h1.5M448.75 33h1.5M451.75 33h3M459.25 33h1.5M465.25 33h1.5M473.25 33h1.5M477.25 33h2.5M493.75 33h1.5M502.75 33h3M508.75 33h2M513.75 33h1.5M520.25 33h1.5M523.75 33h1.5M525.75 33h1.5M528.25 33h2.5M535.25 33h1.5M540.75 33h4M550.75 33h1.5M553.75 33h1.5M556.25 33h1.5M558.25 33h2M561.25 33h1.5M567.75 33h1.5M570.75 33h2.5M575.25 33h1.5M581.25 33h4M585.75 33h2M588.75 33h1.5M595.25 33h1.5M604.75 33h1.5M606.75 33h1.5M612.75 33h2M617.25 33h2.5M620.25 33h4M625.75 33h3M630.75 33h7.5M643.75 33h1.5M647.75 33h1.5M649.75 33h4.5M656.25 33h2M660.25 33h4M665.75 33h2M419.25 33.5h1.5M423.25 33.5h1.5M429.75 33.5h2M436.75 33.5h3M449.25 33.5h1.5M454.25 33.5h3M457.75 33.5h2M461.75 33.5h2M470.25 33.5h4M475.75 33.5h2.5M479.25 33.5h1.5M486.25 33.5h1.5M489.25 33.5h1.5M492.75 33.5h1.5M496.75 33.5h1.5M498.75 33.5h1.5M504.25 33.5h1.5M507.75 33.5h3M513.75 33.5h1.5M516.25 33.5h1.5M523.75 33.5h2M526.25 33.5h2M530.25 33.5h1.5M540.25 33.5h1.5M542.75 33.5h1.5M545.75 33.5h1.5M547.75 33.5h2.5M555.75 33.5h3M563.25 33.5h7.5M575.25 33.5h2M578.75 33.5h3M582.75 33.5h1.5M587.25 33.5h2.5M592.25 33.5h1.5M594.75 33.5h1.5M598.25 33.5h1.5M605.75 33.5h1.5M611.75 33.5h1.5M618.75 33.5h2M624.75 33.5h1.5M628.25 33.5h3.5M637.25 33.5h1.5M639.25 33.5h1.5M643.25 33.5h1.5M648.25 33.5h2.5M654.25 33.5h3.5M658.75 33.5h2M661.75 33.5h1.5M664.75 33.5h2M667.75 33.5h1.5M429.75 34h1.5M435.25 34h1.5M440.75 34h4.5M448.25 34h1.5M450.75 34h2.5M453.75 34h2.5M456.75 34h3M462.75 34h1.5M465.75 34h3M471.25 34h1.5M475.25 34h1.5M477.25 34h1.5M479.25 34h1.5M481.75 34h2.5M485.75 34h1.5M488.25 34h2.5M491.75 34h1.5M498.25 34h4M503.25 34h1.5M506.25 34h1.5M513.25 34h1.5M517.75 34h3M526.25 34h1.5M530.25 34h1.5M534.25 34h1.5M537.25 34h6M544.75 34h1.5M546.75 34h2.5M550.75 34h1.5M556.25 34h1.5M558.75 34h3.5M564.75 34h1.5M567.75 34h1.5M572.75 34h2.5M576.25 34h1.5M579.75 34h4M584.75 34h1.5M590.25 34h1.5M592.75 34h1.5M594.75 34h1.5M601.75 34h1.5M610.25 34h2M612.75 34h1.5M614.75 34h4M623.25 34h1.5M625.25 34h1.5M627.75 34h1.5M631.75 34h1.5M635.25 34h2M637.75 34h1.5M640.25 34h2.5M643.75 34h1.5M651.75 34h1.5M656.75 34h1.5M660.25 34h1.5M662.25 34h2M667.75 34h1.5M420.75 34.5h1.5M425.75 34.5h2M428.25 34.5h2M435.75 34.5h1.5M438.25 34.5h1.5M442.75 34.5h1.5M445.75 34.5h5.5M456.25 34.5h2M462.25 34.5h2M465.25 34.5h1.5M470.25 34.5h3M477.25 34.5h1.5M479.75 34.5h1.5M482.75 34.5h1.5M485.25 34.5h3M489.75 34.5h2M492.75 34.5h2.5M496.25 34.5h1.5M501.25 34.5h1.5M503.75 34.5h6M510.75 34.5h1.5M517.75 34.5h1.5M519.75 34.5h1.5M524.25 34.5h2M528.25 34.5h1.5M530.75 34.5h4.5M536.75 34.5h1.5M539.75 34.5h1.5M543.75 34.5h2.5M547.25 34.5h3M560.25 34.5h1.5M562.75 34.5h1.5M566.75 34.5h2.5M570.75 34.5h2M575.25 34.5h1.5M577.75 34.5h1.5M580.75 34.5h2.5M583.75 34.5h1.5M587.25 34.5h1.5M591.75 34.5h2.5M595.75 34.5h2.5M599.75 34.5h2.5M603.25 34.5h1.5M608.25 34.5h3M612.25 34.5h1.5M615.25 34.5h1.5M619.25 34.5h1.5M621.75 34.5h1.5M629.25 34.5h1.5M633.25 34.5h2.5M639.75 34.5h2.5M643.25 34.5h2.5M646.75 34.5h1.5M652.75 34.5h4M662.75 34.5h5M411.25 35h1.5M419.25 35h1.5M421.75 35h2M425.25 35h1.5M428.25 35h1.5M430.25 35h1.5M434.25 35h2.5M437.25 35h1.5M441.75 35h1.5M444.25 35h1.5M447.25 35h2M451.25 35h1.5M454.25 35h1.5M456.25 35h2.5M461.25 35h1.5M467.25 35h5M473.25 35h1.5M475.75 35h1.5M477.75 35h6.5M487.25 35h1.5M490.75 35h2M493.75 35h1.5M495.75 35h3M501.75 35h1.5M505.25 35h1.5M507.25 35h1.5M510.25 35h2.5M518.25 35h1.5M522.75 35h1.5M525.75 35h2M537.75 35h1.5M540.25 35h2M545.75 35h2M549.75 35h1.5M556.25 35h1.5M572.25 35h1.5M577.25 35h1.5M580.25 35h1.5M582.25 35h1.5M584.25 35h4M589.25 35h1.5M595.75 35h2M598.75 35h1.5M605.75 35h1.5M611.25 35h3M615.75 35h1.5M626.75 35h6.5M633.75 35h3.5M639.75 35h2M642.25 35h2M644.75 35h1.5M647.75 35h3M655.75 35h1.5M663.25 35h2.5M420.25 35.5h1.5M431.75 35.5h1.5M443.25 35.5h2M457.75 35.5h1.5M462.25 35.5h4M476.25 35.5h3M484.25 35.5h1.5M491.75 35.5h2M495.25 35.5h1.5M499.75 35.5h1.5M502.25 35.5h1.5M509.25 35.5h4M516.75 35.5h1.5M520.25 35.5h3M524.75 35.5h1.5M530.25 35.5h1.5M533.75 35.5h2.5M537.75 35.5h3.5M543.25 35.5h1.5M548.25 35.5h1.5M552.25 35.5h1.5M557.25 35.5h1.5M562.75 35.5h2M567.75 35.5h1.5M571.75 35.5h1.5M582.25 35.5h1.5M589.75 35.5h2M592.25 35.5h1.5M596.25 35.5h1.5M599.25 35.5h2.5M602.25 35.5h2.5M605.75 35.5h1.5M609.75 35.5h1.5M613.75 35.5h1.5M622.25 35.5h1.5M630.25 35.5h1.5M633.75 35.5h1.5M639.25 35.5h2.5M642.25 35.5h2.5M650.75 35.5h1.5M653.25 35.5h1.5M656.25 35.5h2.5M661.75 35.5h2M665.75 35.5h3.5M420.25 36h1.5M422.25 36h1.5M424.75 36h1.5M427.25 36h3M437.25 36h2M439.75 36h1.5M442.25 36h2.5M447.25 36h2M449.75 36h4.5M454.75 36h1.5M457.25 36h3.5M462.25 36h3M470.75 36h1.5M480.75 36h2M483.75 36h2.5M490.25 36h3.5M495.25 36h2.5M508.75 36h1.5M519.75 36h2.5M527.25 36h1.5M533.75 36h2.5M542.75 36h1.5M545.25 36h1.5M548.75 36h4.5M557.25 36h2M561.25 36h2.5M565.25 36h2.5M576.25 36h3M584.75 36h3M594.25 36h3.5M599.25 36h4M604.25 36h5.5M611.75 36h1.5M614.25 36h1.5M616.75 36h3M620.75 36h2M623.25 36h2M639.25 36h1.5M643.75 36h1.5M646.25 36h1.5M649.25 36h1.5M652.25 36h2.5M660.75 36h1.5M663.75 36h1.5M412.75 36.5h1.5M415.75 36.5h1.5M419.75 36.5h2.5M423.75 36.5h1.5M430.75 36.5h1.5M433.25 36.5h1.5M435.75 36.5h2M438.25 36.5h1.5M442.75 36.5h1.5M445.25 36.5h2.5M448.75 36.5h1.5M451.75 36.5h4.5M460.25 36.5h1.5M462.75 36.5h3.5M469.75 36.5h1.5M482.25 36.5h1.5M487.25 36.5h3.5M492.25 36.5h1.5M496.25 36.5h1.5M500.25 36.5h1.5M507.25 36.5h1.5M514.25 36.5h1.5M516.75 36.5h1.5M525.25 36.5h1.5M532.75 36.5h3M537.25 36.5h2.5M541.75 36.5h7M549.75 36.5h3.5M557.75 36.5h2.5M561.25 36.5h1.5M565.25 36.5h5M570.75 36.5h1.5M572.75 36.5h1.5M577.25 36.5h1.5M580.75 36.5h1.5M582.75 36.5h1.5M584.75 36.5h1.5M587.25 36.5h2M595.25 36.5h3M599.25 36.5h1.5M605.25 36.5h1.5M609.75 36.5h3M615.75 36.5h1.5M618.25 36.5h2.5M622.75 36.5h3.5M628.25 36.5h1.5M632.25 36.5h1.5M634.75 36.5h3M641.75 36.5h3M646.75 36.5h1.5M650.75 36.5h1.5M655.75 36.5h1.5M658.75 36.5h1.5M661.75 36.5h2M666.75 36.5h1.5M412.75 37h1.5M415.75 37h1.5M422.25 37h3M427.25 37h1.5M431.75 37h7M439.25 37h1.5M443.25 37h1.5M446.25 37h1.5M450.25 37h8.5M459.75 37h1.5M461.75 37h4M466.25 37h2.5M476.25 37h2.5M486.25 37h1.5M491.25 37h1.5M494.25 37h4M500.25 37h6M511.75 37h1.5M515.25 37h1.5M521.25 37h1.5M523.25 37h3M537.25 37h3.5M542.75 37h1.5M550.75 37h2M558.25 37h2M565.75 37h3M570.25 37h3M576.75 37h2M587.75 37h4.5M593.25 37h4.5M598.75 37h3M609.25 37h3.5M615.25 37h1.5M620.75 37h1.5M623.75 37h1.5M628.75 37h2.5M639.75 37h2.5M648.25 37h1.5M652.25 37h4M659.75 37h3M416.25 37.5h1.5M420.75 37.5h1.5M422.75 37.5h1.5M426.75 37.5h1.5M428.75 37.5h1.5M432.75 37.5h1.5M449.25 37.5h2.5M459.75 37.5h2M466.75 37.5h3M471.25 37.5h1.5M475.25 37.5h4.5M482.25 37.5h1.5M484.75 37.5h1.5M495.25 37.5h2M501.25 37.5h1.5M513.75 37.5h1.5M518.25 37.5h4.5M524.25 37.5h1.5M527.25 37.5h4M532.25 37.5h1.5M535.25 37.5h2.5M540.25 37.5h1.5M543.75 37.5h1.5M546.25 37.5h1.5M548.25 37.5h3.5M556.75 37.5h1.5M559.25 37.5h1.5M561.75 37.5h3M566.25 37.5h2M570.75 37.5h4.5M576.75 37.5h3.5M589.25 37.5h4M599.25 37.5h1.5M603.25 37.5h5.5M614.75 37.5h3M618.25 37.5h1.5M623.25 37.5h1.5M625.25 37.5h1.5M627.75 37.5h1.5M639.75 37.5h1.5M641.75 37.5h2.5M645.25 37.5h1.5M647.25 37.5h2M651.75 37.5h1.5M654.75 37.5h2M657.25 37.5h1.5M660.25 37.5h1.5M664.75 37.5h1.5M408.25 38h3.5M412.75 38h1.5M418.25 38h1.5M420.25 38h1.5M423.75 38h1.5M425.75 38h1.5M432.25 38h3M441.25 38h1.5M444.25 38h3.5M452.75 38h1.5M458.25 38h1.5M466.25 38h2M471.25 38h4M476.25 38h2.5M480.25 38h2M489.75 38h1.5M497.75 38h2M500.75 38h1.5M503.75 38h1.5M511.75 38h1.5M514.75 38h2.5M518.25 38h3.5M522.75 38h3M529.75 38h1.5M532.25 38h4M538.25 38h1.5M542.25 38h1.5M545.25 38h2.5M548.75 38h9.5M562.25 38h1.5M567.25 38h1.5M570.25 38h1.5M578.25 38h2.5M581.75 38h3M587.25 38h1.5M594.25 38h1.5M601.25 38h1.5M605.25 38h1.5M608.75 38h4.5M616.75 38h1.5M619.25 38h2M625.25 38h1.5M638.25 38h1.5M640.75 38h1.5M644.25 38h1.5M646.25 38h1.5M651.25 38h5M418.75 38.5h1.5M420.75 38.5h1.5M423.25 38.5h1.5M425.25 38.5h1.5M428.25 38.5h1.5M438.25 38.5h1.5M440.75 38.5h1.5M446.25 38.5h4M452.25 38.5h3M455.75 38.5h1.5M458.75 38.5h1.5M460.75 38.5h1.5M464.75 38.5h1.5M472.75 38.5h3.5M477.25 38.5h1.5M479.75 38.5h2.5M486.75 38.5h1.5M488.75 38.5h1.5M492.25 38.5h1.5M494.25 38.5h1.5M498.25 38.5h1.5M504.25 38.5h1.5M513.75 38.5h2.5M521.25 38.5h3M528.25 38.5h1.5M531.25 38.5h1.5M533.25 38.5h1.5M538.75 38.5h1.5M540.75 38.5h1.5M542.75 38.5h1.5M546.75 38.5h5M552.25 38.5h1.5M556.25 38.5h1.5M569.75 38.5h1.5M571.75 38.5h1.5M574.25 38.5h2.5M582.75 38.5h1.5M595.75 38.5h1.5M600.75 38.5h4.5M606.25 38.5h2.5M609.75 38.5h1.5M617.75 38.5h5.5M625.75 38.5h2M632.25 38.5h1.5M637.25 38.5h1.5M642.25 38.5h1.5M644.75 38.5h1.5M647.75 38.5h1.5M656.75 38.5h1.5M658.75 38.5h1.5M410.25 39h1.5M413.75 39h1.5M418.75 39h4M424.25 39h1.5M427.25 39h1.5M433.75 39h1.5M437.25 39h2M439.75 39h1.5M442.75 39h2.5M448.75 39h1.5M457.75 39h1.5M466.25 39h3.5M470.25 39h1.5M475.25 39h2.5M482.25 39h2.5M491.75 39h1.5M493.75 39h1.5M497.25 39h1.5M500.25 39h1.5M509.75 39h3M515.75 39h1.5M517.75 39h1.5M526.75 39h1.5M529.75 39h1.5M534.25 39h1.5M536.75 39h1.5M539.25 39h5.5M545.75 39h1.5M547.75 39h1.5M552.25 39h1.5M558.75 39h1.5M563.75 39h1.5M567.25 39h3M573.25 39h1.5M575.25 39h2.5M578.25 39h3M582.75 39h1.5M586.75 39h1.5M592.25 39h3M596.25 39h1.5M602.75 39h2.5M607.25 39h1.5M619.25 39h2.5M623.25 39h1.5M626.25 39h2.5M630.75 39h1.5M633.25 39h1.5M636.75 39h2M645.25 39h5.5M654.25 39h1.5M657.75 39h3M661.25 39h1.5M665.25 39h2.5M406.75 39.5h2M409.75 39.5h1.5M414.75 39.5h2.5M421.75 39.5h1.5M429.25 39.5h1.5M438.75 39.5h2.5M443.75 39.5h2.5M447.25 39.5h1.5M453.75 39.5h2.5M458.75 39.5h2M461.25 39.5h3M472.75 39.5h2M475.75 39.5h1.5M477.75 39.5h1.5M479.75 39.5h1.5M482.25 39.5h2M485.75 39.5h1.5M492.75 39.5h1.5M499.25 39.5h2.5M502.25 39.5h1.5M505.25 39.5h4M514.25 39.5h3M518.25 39.5h1.5M521.75 39.5h1.5M527.75 39.5h2.5M530.75 39.5h1.5M539.25 39.5h2M549.75 39.5h1.5M554.25 39.5h1.5M558.25 39.5h1.5M562.25 39.5h1.5M566.25 39.5h4M570.75 39.5h2M574.75 39.5h1.5M589.75 39.5h1.5M591.75 39.5h3M596.75 39.5h1.5M598.75 39.5h1.5M601.75 39.5h1.5M604.25 39.5h1.5M607.75 39.5h1.5M609.75 39.5h1.5M615.75 39.5h2.5M618.75 39.5h1.5M620.75 39.5h1.5M626.25 39.5h1.5M628.25 39.5h2.5M631.75 39.5h1.5M633.75 39.5h3M640.75 39.5h1.5M644.75 39.5h2M647.25 39.5h1.5M655.25 39.5h1.5M657.25 39.5h2.5M661.25 39.5h4M409.25 40h1.5M412.75 40h2M427.25 40h1.5M429.75 40h1.5M437.75 40h1.5M443.25 40h1.5M451.25 40h1.5M454.25 40h1.5M456.75 40h2M459.25 40h1.5M463.25 40h2.5M466.25 40h1.5M471.75 40h1.5M478.25 40h1.5M480.75 40h1.5M483.25 40h1.5M496.25 40h1.5M498.75 40h3M503.25 40h2.5M506.25 40h5M521.25 40h1.5M523.75 40h1.5M526.75 40h1.5M531.25 40h1.5M533.25 40h4M542.25 40h1.5M548.75 40h1.5M551.75 40h1.5M554.25 40h1.5M557.25 40h5M569.25 40h1.5M572.25 40h1.5M581.75 40h1.5M583.75 40h1.5M585.75 40h1.5M589.75 40h6.5M599.75 40h3M607.25 40h1.5M609.25 40h3M617.25 40h4.5M625.75 40h1.5M628.25 40h2.5M631.25 40h5M637.25 40h2M641.75 40h1.5M645.25 40h1.5M648.75 40h3M653.25 40h1.5M655.75 40h1.5M660.25 40h1.5M666.75 40h1.5M410.75 40.5h2M413.75 40.5h1.5M417.25 40.5h1.5M423.75 40.5h3.5M427.75 40.5h4.5M434.25 40.5h1.5M453.25 40.5h1.5M458.75 40.5h1.5M461.25 40.5h1.5M463.75 40.5h1.5M484.75 40.5h4.5M491.75 40.5h2M497.25 40.5h1.5M504.75 40.5h5.5M512.75 40.5h1.5M514.75 40.5h1.5M517.75 40.5h5M526.75 40.5h5M533.25 40.5h2M537.25 40.5h2M543.25 40.5h3M549.25 40.5h1.5M552.75 40.5h3M557.25 40.5h3M561.25 40.5h1.5M569.75 40.5h1.5M572.25 40.5h2.5M575.75 40.5h2M579.75 40.5h3.5M583.75 40.5h1.5M587.25 40.5h1.5M589.25 40.5h2M592.25 40.5h2.5M599.25 40.5h3M604.25 40.5h3.5M611.75 40.5h2M618.75 40.5h2.5M623.75 40.5h1.5M625.75 40.5h5M635.75 40.5h1.5M638.75 40.5h1.5M646.25 40.5h1.5M649.75 40.5h5.5M657.75 40.5h2M666.25 40.5h1.5M404.75 41h1.5M414.25 41h1.5M417.25 41h2M420.25 41h1.5M425.25 41h1.5M427.25 41h1.5M429.25 41h2M434.75 41h4M444.25 41h1.5M448.75 41h4M459.25 41h1.5M462.25 41h3M465.75 41h1.5M469.25 41h1.5M472.25 41h9M481.75 41h4.5M487.75 41h1.5M490.25 41h1.5M492.25 41h1.5M499.75 41h6M509.25 41h1.5M512.25 41h1.5M514.75 41h4M521.25 41h1.5M528.25 41h1.5M530.75 41h1.5M533.75 41h3M548.25 41h2M551.75 41h2M556.75 41h1.5M561.25 41h1.5M563.75 41h1.5M569.75 41h1.5M573.25 41h1.5M577.75 41h3M584.75 41h1.5M588.25 41h1.5M592.75 41h1.5M595.75 41h1.5M599.25 41h1.5M605.25 41h1.5M611.25 41h1.5M616.75 41h1.5M621.25 41h3M624.75 41h1.5M628.25 41h1.5M630.25 41h1.5M643.75 41h3M647.25 41h1.5M649.75 41h3.5M661.75 41h2.5M665.25 41h1.5M407.75 41.5h1.5M409.75 41.5h2M413.25 41.5h1.5M416.25 41.5h1.5M420.25 41.5h1.5M422.75 41.5h2M428.75 41.5h1.5M432.25 41.5h1.5M437.75 41.5h3M441.25 41.5h2M444.75 41.5h1.5M447.75 41.5h1.5M450.75 41.5h2M454.75 41.5h1.5M457.75 41.5h1.5M461.75 41.5h1.5M466.25 41.5h1.5M474.75 41.5h3.5M492.75 41.5h2.5M497.75 41.5h1.5M505.25 41.5h3M511.25 41.5h4.5M518.25 41.5h3M526.75 41.5h1.5M528.75 41.5h1.5M531.75 41.5h4.5M538.25 41.5h1.5M542.75 41.5h4M550.75 41.5h3M558.25 41.5h1.5M560.25 41.5h3M563.75 41.5h1.5M565.75 41.5h1.5M573.75 41.5h1.5M576.25 41.5h4M586.25 41.5h2.5M596.75 41.5h2M599.75 41.5h1.5M605.25 41.5h4M610.75 41.5h1.5M613.75 41.5h4M620.25 41.5h1.5M624.75 41.5h1.5M628.75 41.5h1.5M632.25 41.5h1.5M636.25 41.5h1.5M639.75 41.5h1.5M643.25 41.5h1.5M648.75 41.5h4.5M653.75 41.5h2M657.25 41.5h1.5M663.25 41.5h5.5M410.75 42h1.5M412.75 42h1.5M420.75 42h5M428.25 42h1.5M430.75 42h1.5M436.75 42h1.5M439.25 42h1.5M443.25 42h1.5M445.75 42h1.5M447.75 42h1.5M452.75 42h1.5M455.75 42h3M463.25 42h1.5M467.75 42h2M470.25 42h1.5M473.25 42h2M485.25 42h2.5M488.25 42h1.5M490.75 42h1.5M492.75 42h1.5M494.75 42h2.5M498.75 42h1.5M504.25 42h4M509.75 42h1.5M512.75 42h1.5M515.25 42h2.5M519.25 42h2.5M523.25 42h4.5M537.75 42h1.5M539.75 42h3M544.25 42h1.5M552.25 42h2M558.25 42h3M562.25 42h2M565.25 42h1.5M568.25 42h1.5M571.75 42h1.5M575.25 42h1.5M581.25 42h1.5M584.75 42h5M591.25 42h1.5M597.25 42h1.5M601.25 42h2.5M609.25 42h3M613.25 42h3M626.75 42h5.5M632.75 42h1.5M641.75 42h3.5M645.75 42h5.5M653.25 42h1.5M658.25 42h1.5M664.25 42h1.5M666.75 42h2.5M404.75 42.5h1.5M408.25 42.5h3M413.75 42.5h4.5M418.75 42.5h2.5M422.25 42.5h1.5M424.25 42.5h1.5M428.25 42.5h1.5M437.75 42.5h2.5M444.25 42.5h2M452.75 42.5h1.5M454.75 42.5h3M458.25 42.5h3M463.75 42.5h1.5M466.25 42.5h3M470.75 42.5h3M475.25 42.5h1.5M480.25 42.5h1.5M482.25 42.5h2.5M488.25 42.5h1.5M491.25 42.5h2M497.25 42.5h1.5M499.25 42.5h2.5M502.75 42.5h4M508.75 42.5h2.5M512.25 42.5h1.5M517.25 42.5h1.5M519.75 42.5h4M525.75 42.5h1.5M530.25 42.5h2M538.25 42.5h2.5M543.25 42.5h1.5M546.25 42.5h1.5M551.75 42.5h1.5M553.75 42.5h2.5M558.25 42.5h2.5M565.25 42.5h1.5M567.75 42.5h3M571.25 42.5h1.5M573.25 42.5h1.5M575.25 42.5h4M579.75 42.5h1.5M586.25 42.5h2M589.75 42.5h1.5M596.75 42.5h1.5M599.75 42.5h1.5M602.25 42.5h3.5M607.75 42.5h1.5M612.75 42.5h1.5M618.25 42.5h1.5M622.25 42.5h3M634.25 42.5h1.5M640.75 42.5h1.5M642.75 42.5h1.5M647.75 42.5h1.5M650.25 42.5h2M652.75 42.5h1.5M656.75 42.5h1.5M663.25 42.5h1.5M404.75 43h1.5M410.75 43h2M417.25 43h2.5M422.75 43h1.5M427.25 43h4.5M432.25 43h3.5M436.25 43h2M439.75 43h4.5M445.25 43h1.5M449.25 43h1.5M452.25 43h1.5M460.75 43h3M469.75 43h2M472.25 43h1.5M475.75 43h1.5M479.75 43h1.5M482.25 43h1.5M484.25 43h5.5M492.25 43h1.5M504.75 43h1.5M506.75 43h1.5M513.75 43h1.5M516.25 43h2M521.25 43h1.5M524.25 43h5M532.25 43h1.5M536.75 43h1.5M541.25 43h1.5M546.75 43h2M549.75 43h1.5M553.75 43h1.5M556.75 43h1.5M560.75 43h1.5M564.25 43h1.5M566.25 43h1.5M568.75 43h1.5M571.75 43h1.5M575.75 43h2.5M578.75 43h1.5M582.25 43h2.5M590.75 43h2M599.75 43h1.5M604.75 43h2M614.25 43h3M619.25 43h4M624.25 43h3M633.25 43h3M637.25 43h1.5M641.75 43h2M644.25 43h1.5M648.75 43h2.5M658.75 43h1.5M665.25 43h1.5M410.25 43.5h2.5M414.75 43.5h1.5M417.25 43.5h2M424.25 43.5h1.5M426.75 43.5h2.5M434.75 43.5h1.5M437.25 43.5h1.5M439.25 43.5h2M461.25 43.5h1.5M467.75 43.5h2.5M472.25 43.5h4M477.25 43.5h3.5M481.75 43.5h1.5M485.25 43.5h2.5M488.25 43.5h1.5M491.75 43.5h1.5M495.75 43.5h5.5M505.75 43.5h1.5M509.25 43.5h4M515.75 43.5h1.5M522.75 43.5h1.5M526.25 43.5h1.5M530.75 43.5h1.5M532.75 43.5h2M535.25 43.5h1.5M537.25 43.5h1.5M541.25 43.5h2M546.25 43.5h1.5M563.75 43.5h1.5M570.25 43.5h1.5M578.75 43.5h1.5M580.75 43.5h3M586.25 43.5h1.5M588.25 43.5h2M591.25 43.5h2.5M598.75 43.5h1.5M600.75 43.5h3.5M605.25 43.5h1.5M609.25 43.5h1.5M620.25 43.5h1.5M622.25 43.5h4M627.75 43.5h4M633.25 43.5h1.5M638.75 43.5h1.5M647.75 43.5h1.5M652.25 43.5h1.5M654.25 43.5h2.5M406.75 44h1.5M409.25 44h1.5M419.25 44h3M422.75 44h1.5M429.75 44h1.5M436.25 44h5M451.25 44h2M454.75 44h4M461.75 44h2.5M467.25 44h1.5M471.75 44h1.5M474.75 44h1.5M478.25 44h1.5M481.75 44h1.5M485.25 44h1.5M495.25 44h2.5M498.75 44h2.5M505.25 44h1.5M507.75 44h4M513.75 44h1.5M521.75 44h3.5M528.75 44h1.5M535.25 44h2M538.25 44h3.5M543.25 44h1.5M548.75 44h1.5M551.25 44h2M555.25 44h2M560.75 44h2.5M568.25 44h4M572.75 44h1.5M574.75 44h1.5M580.25 44h1.5M583.25 44h2M585.75 44h1.5M587.75 44h1.5M589.75 44h1.5M591.75 44h1.5M594.25 44h4.5M611.25 44h4.5M630.75 44h1.5M633.25 44h1.5M637.75 44h1.5M641.75 44h1.5M648.25 44h1.5M653.75 44h1.5M662.75 44h1.5M667.25 44h1.5M404.25 44.5h3M416.25 44.5h4.5M425.75 44.5h1.5M427.75 44.5h1.5M430.25 44.5h2M441.25 44.5h3M444.75 44.5h2M447.75 44.5h1.5M452.75 44.5h1.5M455.75 44.5h1.5M458.25 44.5h2M463.25 44.5h4M476.75 44.5h2.5M480.75 44.5h1.5M484.75 44.5h1.5M486.75 44.5h1.5M495.75 44.5h1.5M501.25 44.5h2M506.25 44.5h2M516.25 44.5h1.5M518.75 44.5h1.5M529.75 44.5h1.5M532.75 44.5h1.5M535.25 44.5h1.5M540.75 44.5h1.5M548.25 44.5h1.5M552.75 44.5h1.5M557.25 44.5h2.5M563.25 44.5h1.5M569.75 44.5h3M579.75 44.5h1.5M581.75 44.5h1.5M589.25 44.5h4M594.25 44.5h1.5M598.25 44.5h1.5M605.75 44.5h1.5M607.75 44.5h1.5M617.75 44.5h1.5M621.25 44.5h1.5M624.25 44.5h1.5M627.25 44.5h1.5M632.25 44.5h1.5M635.25 44.5h1.5M638.25 44.5h1.5M644.25 44.5h4M650.75 44.5h3M654.75 44.5h2M657.25 44.5h1.5M402.75 45h1.5M405.25 45h3M428.25 45h1.5M430.75 45h6.5M438.75 45h1.5M443.75 45h1.5M448.75 45h8M461.25 45h2M463.75 45h3.5M469.25 45h2.5M472.25 45h1.5M474.75 45h1.5M477.25 45h1.5M481.75 45h3M485.75 45h1.5M494.75 45h1.5M497.25 45h1.5M501.25 45h2.5M507.75 45h1.5M514.75 45h1.5M519.25 45h1.5M523.75 45h5M530.25 45h1.5M532.25 45h3M535.75 45h1.5M539.75 45h1.5M543.75 45h1.5M546.75 45h1.5M552.25 45h2.5M555.75 45h1.5M559.75 45h1.5M563.25 45h5M568.75 45h2M572.75 45h2M576.75 45h1.5M580.25 45h1.5M582.25 45h1.5M584.25 45h2.5M588.25 45h1.5M592.75 45h1.5M595.25 45h2.5M599.25 45h2.5M602.75 45h5M611.25 45h3M615.25 45h3M618.75 45h1.5M621.75 45h1.5M625.25 45h1.5M627.75 45h1.5M632.25 45h2.5M636.25 45h3M640.25 45h2M645.75 45h1.5M649.25 45h1.5M653.25 45h2M658.25 45h2.5M661.25 45h1.5M666.25 45h3M400.25 45.5h1.5M403.75 45.5h1.5M408.75 45.5h1.5M414.25 45.5h2.5M420.25 45.5h1.5M428.25 45.5h3.5M433.25 45.5h5M439.25 45.5h2M442.75 45.5h2M446.75 45.5h3M452.25 45.5h2.5M457.75 45.5h1.5M465.25 45.5h1.5M469.75 45.5h1.5M477.75 45.5h1.5M482.75 45.5h2.5M486.75 45.5h2.5M489.75 45.5h1.5M492.25 45.5h3M498.75 45.5h1.5M501.75 45.5h1.5M503.75 45.5h1.5M510.25 45.5h2M517.75 45.5h4.5M523.75 45.5h1.5M526.25 45.5h1.5M528.25 45.5h1.5M535.25 45.5h1.5M541.75 45.5h3M547.75 45.5h1.5M556.75 45.5h3.5M563.75 45.5h3M567.75 45.5h3M571.75 45.5h2M574.25 45.5h5.5M582.25 45.5h1.5M584.25 45.5h1.5M590.75 45.5h1.5M592.75 45.5h4M604.75 45.5h2.5M607.75 45.5h2.5M615.25 45.5h1.5M619.25 45.5h1.5M624.25 45.5h1.5M626.75 45.5h1.5M636.25 45.5h1.5M638.25 45.5h3.5M643.75 45.5h3M648.25 45.5h1.5M650.25 45.5h3M657.25 45.5h1.5M662.25 45.5h1.5M665.75 45.5h1.5M400.75 46h2.5M403.75 46h3M414.75 46h1.5M418.75 46h2M425.25 46h2M429.25 46h1.5M434.75 46h1.5M437.25 46h1.5M440.75 46h2.5M444.75 46h2M451.75 46h4M458.75 46h3M465.75 46h1.5M468.25 46h1.5M470.75 46h2.5M484.25 46h1.5M491.75 46h1.5M494.25 46h5M503.25 46h1.5M505.25 46h1.5M510.75 46h1.5M512.75 46h1.5M517.75 46h1.5M521.75 46h1.5M532.25 46h1.5M544.75 46h2M552.75 46h2M555.25 46h5.5M561.75 46h4M567.25 46h2.5M584.75 46h4.5M590.75 46h1.5M595.75 46h4.5M606.25 46h1.5M623.25 46h1.5M627.25 46h1.5M630.25 46h1.5M638.75 46h2M642.25 46h1.5M646.75 46h4.5M654.25 46h1.5M658.25 46h1.5M660.75 46h1.5M666.75 46h1.5M404.75 46.5h2.5M410.25 46.5h1.5M414.25 46.5h1.5M422.75 46.5h3M428.25 46.5h1.5M432.75 46.5h1.5M438.75 46.5h1.5M443.75 46.5h2.5M456.75 46.5h1.5M466.75 46.5h1.5M471.75 46.5h1.5M475.25 46.5h1.5M478.75 46.5h1.5M481.25 46.5h3M486.75 46.5h3M495.25 46.5h1.5M498.25 46.5h2.5M501.75 46.5h3M505.25 46.5h2M514.25 46.5h2M517.75 46.5h1.5M524.25 46.5h1.5M528.75 46.5h4M536.75 46.5h2M546.75 46.5h1.5M549.25 46.5h1.5M553.25 46.5h1.5M555.25 46.5h1.5M570.75 46.5h2M573.25 46.5h1.5M580.25 46.5h1.5M587.75 46.5h4.5M592.75 46.5h1.5M594.75 46.5h1.5M603.75 46.5h1.5M611.25 46.5h1.5M616.25 46.5h2M624.75 46.5h3M631.75 46.5h1.5M638.75 46.5h1.5M646.25 46.5h3M651.75 46.5h1.5M655.75 46.5h4.5M660.75 46.5h2.5M664.25 46.5h1.5M410.25 47h1.5M412.25 47h2.5M415.25 47h1.5M417.75 47h1.5M419.75 47h1.5M422.25 47h1.5M424.75 47h2.5M431.25 47h5M437.25 47h1.5M442.25 47h1.5M444.25 47h1.5M447.25 47h3M452.75 47h1.5M455.75 47h1.5M458.25 47h6M466.25 47h1.5M470.25 47h1.5M475.25 47h1.5M478.75 47h1.5M481.25 47h1.5M484.75 47h1.5M486.75 47h2M491.75 47h1.5M497.25 47h1.5M503.25 47h2M506.25 47h1.5M508.25 47h1.5M511.75 47h1.5M521.25 47h1.5M525.25 47h1.5M527.75 47h1.5M530.75 47h1.5M536.75 47h1.5M539.25 47h1.5M544.25 47h2.5M547.25 47h1.5M557.25 47h1.5M564.25 47h2M569.25 47h1.5M580.25 47h2.5M583.75 47h1.5M585.75 47h2.5M591.25 47h1.5M595.75 47h4M602.25 47h1.5M606.75 47h3M610.25 47h1.5M614.75 47h2M622.25 47h1.5M635.25 47h1.5M637.75 47h2M640.25 47h1.5M643.75 47h1.5M648.25 47h1.5M662.25 47h3.5M409.25 47.5h1.5M413.25 47.5h2.5M417.25 47.5h3M424.75 47.5h2.5M445.25 47.5h1.5M455.25 47.5h1.5M457.25 47.5h2.5M460.25 47.5h1.5M464.25 47.5h1.5M467.75 47.5h4.5M472.75 47.5h1.5M474.75 47.5h1.5M481.75 47.5h1.5M483.75 47.5h1.5M494.25 47.5h1.5M496.25 47.5h1.5M498.25 47.5h1.5M501.25 47.5h2.5M506.25 47.5h1.5M509.75 47.5h1.5M514.75 47.5h2.5M520.25 47.5h1.5M524.75 47.5h1.5M532.75 47.5h1.5M534.75 47.5h2.5M538.75 47.5h4.5M553.75 47.5h2M558.25 47.5h1.5M565.75 47.5h1.5M572.75 47.5h1.5M575.75 47.5h1.5M583.25 47.5h1.5M585.75 47.5h1.5M600.75 47.5h1.5M608.25 47.5h1.5M614.25 47.5h2M620.25 47.5h1.5M628.25 47.5h1.5M630.75 47.5h2M641.25 47.5h1.5M647.25 47.5h2.5M650.25 47.5h1.5M654.75 47.5h1.5M659.25 47.5h1.5M663.25 47.5h2.5M666.75 47.5h1.5M399.75 48h1.5M404.75 48h3.5M411.75 48h1.5M415.75 48h1.5M425.25 48h1.5M429.25 48h1.5M432.25 48h3M435.75 48h1.5M438.25 48h1.5M443.25 48h1.5M446.75 48h1.5M459.25 48h3.5M465.25 48h1.5M467.75 48h2.5M480.75 48h3M485.75 48h1.5M492.25 48h3M496.25 48h1.5M499.25 48h1.5M501.75 48h3M505.75 48h1.5M509.25 48h2.5M513.75 48h3M520.25 48h1.5M522.75 48h4M529.75 48h1.5M533.25 48h3M553.25 48h1.5M556.75 48h1.5M558.75 48h1.5M568.25 48h1.5M570.25 48h2.5M575.75 48h1.5M577.75 48h2.5M588.25 48h1.5M590.25 48h3M593.75 48h2M597.75 48h1.5M610.75 48h3.5M616.25 48h3M630.25 48h1.5M632.75 48h1.5M638.25 48h2.5M648.75 48h3M654.25 48h3.5M661.25 48h1.5M663.25 48h2M665.75 48h1.5M404.25 48.5h2.5M408.25 48.5h1.5M414.75 48.5h1.5M419.25 48.5h1.5M422.25 48.5h2M429.25 48.5h3.5M439.75 48.5h4M446.25 48.5h2.5M451.75 48.5h1.5M461.75 48.5h1.5M466.75 48.5h2M471.75 48.5h3M476.25 48.5h1.5M483.25 48.5h1.5M485.25 48.5h1.5M489.75 48.5h1.5M507.25 48.5h2.5M514.25 48.5h1.5M520.25 48.5h1.5M522.75 48.5h5M528.25 48.5h1.5M530.75 48.5h1.5M532.75 48.5h2.5M538.25 48.5h1.5M542.25 48.5h1.5M556.75 48.5h2M561.25 48.5h1.5M566.25 48.5h1.5M577.25 48.5h2.5M585.75 48.5h1.5M600.25 48.5h1.5M605.75 48.5h1.5M610.25 48.5h1.5M614.75 48.5h1.5M618.75 48.5h1.5M621.25 48.5h1.5M643.25 48.5h5M652.25 48.5h2M657.75 48.5h2.5M664.25 48.5h1.5M667.75 48.5h1.5M405.75 49h2M410.75 49h2M414.75 49h2M417.25 49h1.5M422.75 49h4M428.25 49h2.5M434.25 49h1.5M437.75 49h4M442.25 49h1.5M448.75 49h2.5M451.75 49h1.5M454.75 49h2M457.25 49h3.5M461.75 49h1.5M467.75 49h1.5M475.25 49h4.5M480.25 49h1.5M483.25 49h1.5M487.75 49h3M501.75 49h1.5M508.75 49h3M512.25 49h1.5M520.25 49h2M524.25 49h1.5M529.75 49h2.5M536.75 49h1.5M552.75 49h1.5M555.25 49h2M563.25 49h1.5M568.25 49h1.5M572.75 49h1.5M576.75 49h1.5M589.25 49h1.5M600.75 49h1.5M608.75 49h1.5M611.25 49h1.5M629.75 49h1.5M634.25 49h1.5M644.25 49h1.5M660.75 49h1.5M666.25 49h1.5M405.75 49.5h4.5M412.25 49.5h1.5M414.75 49.5h3M418.25 49.5h3M423.75 49.5h2.5M433.75 49.5h2M440.25 49.5h3.5M444.25 49.5h1.5M446.75 49.5h2.5M453.75 49.5h1.5M457.75 49.5h2M461.25 49.5h1.5M465.75 49.5h4M470.25 49.5h1.5M473.75 49.5h1.5M476.25 49.5h4M487.25 49.5h1.5M490.25 49.5h2M492.75 49.5h1.5M501.25 49.5h2M505.25 49.5h1.5M511.25 49.5h1.5M520.75 49.5h1.5M529.25 49.5h1.5M533.25 49.5h1.5M535.75 49.5h3M541.75 49.5h2M552.25 49.5h2M560.75 49.5h1.5M566.75 49.5h1.5M597.25 49.5h1.5M603.75 49.5h1.5M610.25 49.5h1.5M612.25 49.5h1.5M639.75 49.5h1.5M649.75 49.5h1.5M656.25 49.5h1.5M403.25 50h1.5M405.25 50h1.5M409.75 50h1.5M415.75 50h1.5M418.25 50h3M424.25 50h1.5M427.25 50h1.5M429.75 50h4.5M435.75 50h1.5M438.75 50h1.5M443.75 50h2M446.75 50h1.5M450.25 50h3M463.25 50h1.5M481.25 50h1.5M485.25 50h1.5M490.25 50h3M494.75 50h1.5M500.75 50h2.5M510.75 50h2M513.25 50h1.5M516.75 50h1.5M523.25 50h1.5M530.25 50h1.5M532.75 50h1.5M548.25 50h1.5M554.25 50h1.5M571.75 50h1.5M588.25 50h1.5M600.75 50h1.5M614.75 50h1.5M618.25 50h1.5M627.75 50h1.5M403.75 50.5h2.5M408.75 50.5h2.5M411.75 50.5h1.5M415.25 50.5h1.5M418.25 50.5h1.5M420.75 50.5h1.5M426.25 50.5h1.5M429.25 50.5h1.5M434.25 50.5h4.5M445.25 50.5h1.5M447.75 50.5h1.5M453.75 50.5h1.5M456.25 50.5h1.5M458.75 50.5h1.5M465.75 50.5h1.5M467.75 50.5h1.5M471.75 50.5h1.5M479.75 50.5h3M486.25 50.5h1.5M490.25 50.5h1.5M493.75 50.5h1.5M496.75 50.5h1.5M499.25 50.5h1.5M505.75 50.5h1.5M510.75 50.5h1.5M529.25 50.5h1.5M545.75 50.5h1.5M553.25 50.5h1.5M559.75 50.5h1.5M564.25 50.5h1.5M569.25 50.5h1.5M586.25 50.5h2M606.25 50.5h1.5M632.75 50.5h1.5M640.75 50.5h1.5M652.25 50.5h1.5M658.25 50.5h1.5M402.75 51h3M408.75 51h1.5M424.25 51h1.5M428.75 51h1.5M431.75 51h3M436.75 51h3.5M454.25 51h1.5M456.75 51h1.5M466.75 51h2.5M474.25 51h1.5M481.25 51h1.5M483.75 51h1.5M494.25 51h1.5M500.75 51h1.5M507.25 51h5.5M514.25 51h2.5M524.75 51h1.5M541.25 51h2.5M553.25 51h1.5M596.75 51h1.5M604.75 51h1.5M608.75 51h1.5M642.25 51h1.5M646.25 51h1.5M657.25 51h1.5M401.75 51.5h1.5M406.25 51.5h1.5M408.75 51.5h4M417.75 51.5h2M421.25 51.5h3M426.75 51.5h1.5M435.25 51.5h2.5M438.25 51.5h1.5M440.25 51.5h2M442.75 51.5h4M461.25 51.5h1.5M464.25 51.5h1.5M469.25 51.5h1.5M474.25 51.5h1.5M479.25 51.5h1.5M485.25 51.5h1.5M493.75 51.5h1.5M499.75 51.5h1.5M503.25 51.5h2.5M506.75 51.5h1.5M517.25 51.5h1.5M519.25 51.5h1.5M632.25 51.5h1.5M647.25 51.5h1.5M653.75 51.5h1.5M666.25 51.5h1.5M403.25 52h1.5M413.25 52h1.5M415.75 52h1.5M417.75 52h1.5M420.75 52h1.5M432.25 52h2M435.25 52h1.5M437.25 52h1.5M440.75 52h1.5M446.75 52h2M449.75 52h3M453.25 52h2.5M468.25 52h1.5M473.75 52h1.5M514.25 52h1.5M525.25 52h1.5M548.25 52h1.5M609.75 52h1.5M399.75 52.5h3M403.75 52.5h1.5M408.25 52.5h1.5M412.25 52.5h3.5M416.25 52.5h1.5M419.75 52.5h1.5M439.75 52.5h2M449.25 52.5h1.5M453.25 52.5h4M468.75 52.5h1.5M485.75 52.5h1.5M491.25 52.5h1.5M504.75 52.5h1.5M514.25 52.5h1.5M529.25 52.5h1.5M543.75 52.5h1.5M599.75 52.5h1.5M610.25 52.5h1.5M627.25 52.5h1.5M401.75 53h1.5M405.75 53h1.5M409.75 53h2.5M416.25 53h1.5M418.75 53h1.5M423.25 53h3M428.75 53h6M438.25 53h2.5M441.25 53h4M447.75 53h2M451.25 53h1.5M456.75 53h1.5M460.75 53h1.5M490.75 53h1.5M509.25 53h1.5M543.75 53h1.5M567.25 53h1.5M571.75 53h1.5M596.25 53h1.5M635.25 53h1.5M399.25 53.5h2M402.25 53.5h5.5M412.25 53.5h1.5M417.25 53.5h1.5M424.25 53.5h5M430.25 53.5h2.5M433.75 53.5h2M436.75 53.5h1.5M442.25 53.5h1.5M452.25 53.5h1.5M456.25 53.5h1.5M463.75 53.5h1.5M500.75 53.5h1.5M514.75 53.5h1.5M548.25 53.5h1.5M405.25 54h2.5M411.25 54h1.5M413.25 54h2M421.25 54h1.5M424.75 54h1.5M434.75 54h1.5M438.75 54h1.5M480.25 54h1.5M513.75 54h1.5M518.25 54h1.5M553.25 54h1.5M609.75 54h2.5M618.75 54h1.5M632.25 54h1.5M401.25 54.5h1.5M403.75 54.5h1.5M411.25 54.5h3M415.25 54.5h4.5M423.75 54.5h1.5M425.75 54.5h2M430.25 54.5h1.5M434.75 54.5h1.5M441.25 54.5h1.5M446.75 54.5h1.5M462.25 54.5h1.5M487.25 54.5h1.5M529.25 54.5h1.5M595.75 54.5h1.5M625.75 54.5h1.5M636.25 54.5h1.5M396.25 55h1.5M405.75 55h2.5M409.25 55h1.5M414.25 55h1.5M419.25 55h1.5M423.25 55h1.5M427.75 55h1.5M433.25 55h1.5M438.75 55h1.5M449.25 55h1.5M456.25 55h3M567.25 55h1.5M625.25 55h1.5M633.75 55h1.5M401.75 55.5h2M404.75 55.5h1.5M406.75 55.5h1.5M414.75 55.5h2M425.25 55.5h3M438.25 55.5h1.5M441.75 55.5h1.5M503.25 55.5h1.5M580.75 55.5h1.5M611.75 55.5h1.5M399.75 56h2M402.25 56h1.5M407.75 56h1.5M410.25 56h1.5M415.75 56h1.5M432.75 56h1.5M441.25 56h1.5M448.75 56h1.5M486.25 56h1.5M495.75 56h1.5M400.25 56.5h1.5M408.25 56.5h1.5M412.25 56.5h1.5M426.25 56.5h1.5M428.25 56.5h1.5M432.25 56.5h1.5M435.75 56.5h1.5M440.75 56.5h1.5M460.75 56.5h1.5M400.25 57h3M403.75 57h1.5M409.25 57h1.5M416.25 57h1.5M431.25 57h1.5M442.25 57h1.5M448.25 57h1.5M401.25 57.5h2M407.75 57.5h2.5M410.75 57.5h1.5M415.75 57.5h1.5M418.75 57.5h1.5M423.25 57.5h3M428.75 57.5h1.5M431.75 57.5h2M471.25 57.5h1.5M478.25 57.5h1.5M527.75 57.5h1.5M405.25 58h1.5M409.25 58h3M412.75 58h2.5M418.75 58h3M496.75 58h1.5M396.25 58.5h1.5M400.75 58.5h3M405.75 58.5h2M413.25 58.5h1.5M421.25 58.5h2.5M424.25 58.5h1.5M430.75 58.5h1.5M535.25 58.5h1.5M398.75 59h2.5M401.75 59h1.5M408.25 59h1.5M411.75 59h1.5M413.75 59h3M418.25 59h5M444.75 59h1.5M447.25 59h1.5M398.75 59.5h2.5M402.25 59.5h2.5M412.25 59.5h1.5M414.25 59.5h2.5M418.75 59.5h1.5M422.75 59.5h1.5M499.25 59.5h1.5M397.25 60h1.5M399.25 60h1.5M402.75 60h1.5M411.25 60h1.5M413.25 60h2.5M417.25 60h2M420.75 60h1.5M423.75 60h1.5M406.25 60.5h1.5M408.25 60.5h1.5M410.75 60.5h2M415.75 60.5h1.5M419.75 60.5h1.5M433.25 60.5h1.5M481.75 60.5h1.5M401.25 61h2.5M406.75 61h2.5M411.75 61h1.5M414.25 61h1.5M417.75 61h1.5M424.75 61h1.5M401.25 61.5h1.5M403.75 61.5h3M409.25 61.5h1.5M413.75 61.5h1.5M398.25 62h1.5M400.75 62h3M404.25 62h1.5M411.75 62h1.5M415.75 62h1.5M419.75 62h1.5M429.25 62h2.5M400.75 62.5h2.5M405.75 62.5h1.5M408.25 62.5h2.5M411.75 62.5h1.5M417.75 62.5h1.5M423.75 62.5h1.5M427.75 62.5h1.5M449.75 62.5h1.5M399.25 63h2M405.75 63h1.5M410.25 63h1.5M413.25 63h1.5M397.75 63.5h2.5M401.25 63.5h1.5M403.25 63.5h1.5M407.75 63.5h3M413.75 63.5h1.5M420.75 63.5h1.5M428.75 63.5h1.5M435.25 63.5h1.5M483.25 63.5h1.5M403.25 64h1.5M407.25 64h1.5M416.75 64h1.5M398.25 64.5h2M404.25 64.5h1.5M409.75 64.5h1.5M404.25 65h1.5M408.75 65h2.5M471.25 65h1.5M665.25 65h1.5M400.75 65.5h1.5M403.75 65.5h1.5M405.75 65.5h1.5M408.25 65.5h3.5M397.75 66h2.5M400.75 66h1.5M406.75 66h1.5M618.25 66h1.5M400.75 66.5h1.5M406.75 66.5h1.5M400.25 67h2M406.75 67h1.5M416.25 67h1.5M396.25 67.5h1.5M403.25 67.5h2.5M395.25 68h1.5M399.75 68h1.5M396.25 68.5h5.5M407.25 68.5h2M397.25 69h1.5M403.25 69h2M399.25 69.5h1.5M397.25 70h1.5M399.25 70h1.5M402.25 70h1.5M404.75 70h1.5M395.25 70.5h3M398.75 70.5h1.5M402.75 70.5h1.5M399.25 71h1.5M402.25 71.5h1.5M404.25 72h1.5M399.25 72.5h2.5M398.75 73h1.5M396.25 73.5h2M400.25 73.5h2M395.25 74.5h1.5M397.25 74.5h1.5M396.75 75h1.5M401.25 75h1.5M399.25 75.5h1.5M396.75 76h1.5M397.25 76.5h1.5M397.25 77.5h2.5M397.25 78h1.5M396.75 78.5h1.5M399.25 78.5h1.5M396.25 79h2M421.25 79h1.5M395.75 79.5h3.5M397.25 80h1.5M395.25 80.5h1.5M395.75 81h2M399.25 81h1.5M395.75 82h1.5M396.75 83h1.5M398.25 84h1.5M395.25 84.5h1.5M397.75 85h1.5M398.25 86.5h1.5M395.25 89h2M394.75 90.5h1.5M396.25 91.5h1.5M395.25 92.5h2M395.25 93.5h1.5M396.25 94.5h2M395.25 96.5h1.5M393.25 97h1.5M395.25 100.5h1.5M395.75 101h1.5M396.25 101.5h1.5M394.25 102h1.5M394.75 105h2.5M394.75 106h1.5M393.75 109h1.5M397.25 111h1.5M393.75 112h1.5M396.75 120h1.5M394.25 122h1.5M394.75 126.5h1.5M394.25 127h1.5M394.25 127.5h1.5M394.25 128h1.5M394.75 133h1.5M394.25 136h1.5M393.75 138.5h1.5M393.25 139h1.5M393.25 140.5h1.5M395.75 142.5h1.5M394.75 143h1.5M395.75 144h1.5M393.75 150.5h1.5M394.25 151h1.5M392.75 167h1.5M392.25 167.5h1.5M392.75 168.5h1.5M392.25 170.5h1.5M394.75 176.5h1.5M392.75 179h1.5M392.25 181.5h1.5M394.25 183.5h1.5M392.75 186h1.5M392.25 187h1.5M393.75 191h1.5M393.25 194h1.5M393.75 195h1.5M392.25 200.5h1.5M392.25 204.5h1.5M392.75 209.5h1.5M393.75 211.5h1.5M392.75 218.5h1.5M392.25 220h1.5M389.25 221h7" fill="none" stroke="#dadada" stroke-width="1.5"/>
<polyline points="46.96,220.42 47.52,220.57 48.08,219.11 48.64,217.61 49.20,214.18 49.76,208.01 50.32,201.88 50.88,191.73 51.44,181.10 52.00,170.16 52.56,155.66 53.12,141.44 53.68,129.72 54.24,117.36 54.80,106.04 55.36,97.74 55.92,88.96 56.48,83.94 57.04,80.44 57.60,77.60 58.16,74.95 58.72,73.28 59.28,70.71 59.84,68.30 60.40,66.44 60.96,66.17 61.52,63.74 62.08,62.29 62.64,60.99 63.20,60.42 63.76,58.40 64.32,57.00 64.88,55.40 65.44,53.28 66.00,53.73 66.56,53.16 67.12,51.94 67.68,52.32 68.24,52.23 68.80,50.94 69.36,50.09 69.92,50.55 70.48,49.13 71.04,47.61 71.60,50.00 72.16,47.53 72.72,47.96 73.28,48.04 73.84,46.00 74.40,46.32 74.96,47.64 75.52,46.29 76.08,45.80 76.64,45.82 77.20,45.88 77.76,45.68 78.32,44.45 78.88,43.25 79.44,45.06 80.00,44.54 80.56,45.10 81.12,43.68 81.68,44.68 82.24,43.89 82.80,44.48 83.36,42.37 83.92,41.06 84.48,43.10 85.04,42.67 85.60,42.35 86.16,43.98 86.72,42.39 87.28,43.55 87.84,40.89 88.40,41.99 88.96,43.14 89.52,42.73 90.08,40.98 90.64,39.28 91.20,40.92 91.76,39.48 92.32,38.11 92.88,39.34 93.44,39.85 94.00,41.68 94.56,40.54 95.12,40.18 95.68,37.98 96.24,38.38 96.80,38.34 97.36,38.35 97.92,39.26 98.48,37.10 99.04,37.87 99.60,36.66 100.16,38.71 100.72,37.44 101.28,39.31 101.84,40.40 102.40,39.34 102.96,38.80 103.52,37.41 104.08,34.75 104.64,39.05 105.20,38.43 105.76,37.43 106.32,37.17 106.88,38.79 107.44,37.97 108.00,35.65 108.56,35.39 109.12,37.40 109.68,36.14 110.24,35.30 110.80,38.41 111.36,36.25 111.92,36.48 112.48,33.89 113.04,33.59 113.60,33.42 114.16,34.50 114.72,34.15 115.28,35.83 115.84,35.60 116.40,34.01 116.96,35.93 117.52,31.62 118.08,35.12 118.64,32.76 119.20,34.39 119.76,31.80 120.32,32.89 120.88,33.80 121.44,32.00 122.00,31.84 122.56,33.41 123.12,32.89 123.68,32.21 124.24,34.50 124.80,32.67 125.36,33.73 125.92,33.50 126.48,35.02 127.04,33.47 127.60,33.76 128.16,30.86 128.72,32.86 129.28,30.92 129.84,32.35 130.40,32.41 130.96,32.99 131.52,33.72 132.08,32.64 132.64,33.39 133.20,32.54 133.76,33.51 134.32,33.62 134.88,30.71 135.44,33.27 136.00,32.84 136.56,31.96 137.12,31.01 137.68,32.97 138.24,30.36 138.80,30.23 139.36,32.42 139.92,30.21 140.48,30.33 141.04,30.97 141.60,32.82 142.16,31.31 142.72,31.99 143.28,32.23 143.84,34.15 144.40,34.60 144.96,30.63 145.52,32.83 146.08,31.69 146.64,31.61 147.20,31.51 147.76,31.93 148.32,30.33 148.88,32.03 149.44,31.88 150.00,32.15 150.56,29.68 151.12,30.29 151.68,31.13 152.24,32.13 152.80,32.89 153.36,29.72 153.92,30.87 154.48,32.28 155.04,31.22 155.60,28.77 156.16,28.58 156.72,29.12 157.28,30.34 157.84,27.19 158.40,31.10 158.96,29.50 159.52,29.15 160.08,28.83 160.64,27.69 161.20,28.87 161.76,30.39 162.32,30.41 162.88,28.24 163.44,30.35 164.00,31.25 164.56,29.59 165.12,32.36 165.68,32.50 166.24,29.63 166.80,30.35 167.36,31.85 167.92,30.78 168.48,32.07 169.04,32.66 169.60,31.36 170.16,32.10 170.72,34.09 171.28,30.10 171.84,30.41 172.40,29.17 172.96,29.62 173.52,30.05 174.08,32.09 174.64,32.27 175.20,31.49 175.76,32.24 176.32,30.48 176.88,31.61 177.44,28.84 178.00,33.16 178.56,29.90 179.12,30.74 179.68,30.69 180.24,32.05 180.80,31.23 181.36,30.14 181.92,31.83 182.48,30.97 183.04,29.70 183.60,27.16 184.16,28.29 184.72,30.94 185.28,30.49 185.84,31.01 186.40,32.92 186.96,30.37 187.52,28.72 188.08,29.99 188.64,31.58 189.20,31.26 189.76,29.71 190.32,30.60 190.88,28.81 191.44,29.48 192.00,29.80 192.56,28.70 193.12,28.69 193.68,30.14 194.24,31.44 194.80,29.02 195.36,30.30 195.92,28.53 196.48,30.10 197.04,29.93 197.60,29.84 198.16,31.66 198.72,27.31 199.28,29.32 199.84,31.42 200.40,30.06 200.96,29.63 201.52,32.36 202.08,28.56 202.64,30.50 203.20,29.64 203.76,31.19 204.32,30.77 204.88,30.09 205.44,29.32 206.00,31.39 206.56,31.22 207.12,30.08 207.68,31.97 208.24,30.92 208.80,31.98 209.36,27.29 209.92,28.54 210.48,29.85 211.04,30.26 211.60,31.05 212.16,31.25 212.72,30.78 213.28,30.94 213.84,31.70 214.40,28.90 214.96,29.76 215.52,30.01 216.08,30.51 216.64,30.18 217.20,28.02 217.76,28.46 218.32,29.09 218.88,29.63 219.44,30.49 220.00,30.70 220.56,29.54 221.12,30.85 221.68,30.34 222.24,31.22 222.80,29.31 223.36,31.29 223.92,30.87 224.48,32.42 225.04,30.09 225.60,31.44 226.16,30.23 226.72,28.79 227.28,30.99 227.84,30.62 228.40,30.29 228.96,30.30 229.52,30.54 230.08,27.47 230.64,27.45 231.20,30.36 231.76,30.84 232.32,30.91 232.88,30.35 233.44,32.03 234.00,31.58 234.56,29.55 235.12,32.11 235.68,29.82 236.24,30.36 236.80,31.80 237.36,30.84 237.92,28.63 238.48,30.71 239.04,32.12 239.60,32.57 240.16,30.04 240.72,28.11 241.28,28.86 241.84,31.53 242.40,30.77 242.96,30.86 243.52,30.68 244.08,31.31 244.64,29.39 245.20,29.33 245.76,29.33 246.32,29.84 246.88,29.04 247.44,30.10 248.00,29.59 248.56,26.40 249.12,27.97 249.68,29.52 250.24,31.62 250.80,29.30 251.36,31.08 251.92,31.30 252.48,30.21 253.04,30.07 253.60,30.62 254.16,32.00 254.72,29.62 255.28,30.09 255.84,28.45 256.40,27.91 256.96,29.36 257.52,29.18 258.08,29.83 258.64,29.14 259.20,29.60 259.76,29.69 260.32,29.71 260.88,31.22 261.44,28.55 262.00,28.25 262.56,28.84 263.12,30.31 263.68,29.58 264.24,30.16 264.80,30.54 265.36,31.25 265.92,31.91 266.48,31.26 267.04,29.72 267.60,30.71 268.16,29.63 268.72,29.64 269.28,32.13 269.84,31.76 270.40,29.59 270.96,27.92 271.52,28.14 272.08,27.87 272.64,28.74 273.20,30.67 273.76,30.63 274.32,27.94 274.88,29.80 275.44,31.49 276.00,28.38 276.56,28.34 277.12,27.94 277.68,30.57 278.24,30.26 278.80,30.71 279.36,27.09 279.92,29.78 280.48,28.52 281.04,32.31 281.60,30.16 282.16,31.53 282.72,30.23 283.28,28.88 283.84,30.63 284.40,28.86 284.96,30.19 285.52,31.59 286.08,30.05 286.64,31.24 287.20,29.72 287.76,30.89 288.32,31.87 288.88,30.08 289.44,31.08 290.00,32.32 290.56,30.90 291.12,28.97 291.68,30.81 292.24,29.92 292.80,30.44 293.36,30.48 293.92,29.32 294.48,30.50 295.04,28.49 295.60,31.31 296.16,30.28 296.72,30.65 297.28,31.08 297.84,30.01 298.40,30.88 298.96,29.08 299.52,29.83 300.08,30.50 300.64,29.01 301.20,29.03 301.76,27.01 302.32,30.52 302.88,29.34 303.44,31.74 304.00,28.09 304.56,29.39 305.12,32.37 305.68,31.08 306.24,29.03 306.80,31.27 307.36,30.55 307.92,30.60 308.48,30.87 309.04,29.07 309.60,30.71 310.16,30.08 310.72,30.66 311.28,31.16 311.84,30.56 312.40,31.03 312.96,31.54 313.52,32.79 314.08,28.35 314.64,31.24 315.20,30.97 315.76,31.89 316.32,30.98 316.88,30.35 317.44,27.61 318.00,31.10 318.56,31.04 319.12,30.83 319.68,31.46 320.24,28.96 320.80,28.38 321.36,30.95 321.92,31.71 322.48,30.74 323.04,28.79 323.60,33.85 324.16,29.34 324.72,31.47 325.28,28.89 325.84,31.82 326.40,30.55" fill="none" stroke="#1a1a1a" stroke-width="1.3" stroke-linejoin="round"/>
<polyline points="46.40,206.55 46.96,215.04 47.52,219.75 48.08,209.58 48.64,202.29 49.20,204.25 49.76,196.46 50.32,188.67 50.88,190.55 51.44,195.03 52.00,197.35 52.56,193.71 53.12,185.39 53.68,181.15 54.24,187.32 54.80,196.34 55.36,202.84 55.92,205.00 56.48,208.39 57.04,210.33 57.60,213.95 58.16,214.01 58.72,214.22 59.28,213.97 59.84,212.57 60.40,210.22 60.96,212.84 61.52,211.59 62.08,213.14 62.64,211.66 63.20,213.20 63.76,212.60 64.32,210.63 64.88,210.85 65.44,211.75 66.00,211.77 66.56,212.91 67.12,211.02 67.68,212.54 68.24,211.64 68.80,211.72 69.36,210.50 69.92,214.01 70.48,212.62 71.04,211.94 71.60,212.22 72.16,213.21 72.72,212.38 73.28,214.09 73.84,212.48 74.40,210.63 74.96,213.10 75.52,214.83 76.08,215.04 76.64,214.68 77.20,212.49 77.76,214.55 78.32,214.85 78.88,212.58 79.44,212.48 80.00,212.70 80.56,213.25 81.12,214.17 81.68,213.50 82.24,214.17 82.80,211.27 83.36,212.59 83.92,211.77 84.48,210.77 85.04,211.75 85.60,212.75 86.16,211.22 86.72,211.72 87.28,213.61 87.84,213.41 88.40,212.43 88.96,213.85 89.52,211.68 90.08,214.95 90.64,214.72 91.20,214.57 91.76,213.92 92.32,213.72 92.88,213.31 93.44,213.01 94.00,211.56 94.56,214.38 95.12,211.54 95.68,212.02 96.24,211.73 96.80,211.45 97.36,212.40 97.92,212.82 98.48,211.68 99.04,212.24 99.60,214.19 100.16,211.89 100.72,211.72 101.28,215.03 101.84,214.27 102.40,212.36 102.96,213.62 103.52,213.85 104.08,214.64 104.64,214.38 105.20,214.59 105.76,214.78 106.32,212.82 106.88,214.08 107.44,214.27 108.00,214.23 108.56,213.42 109.12,214.24 109.68,213.45 110.24,211.84 110.80,213.59 111.36,213.77 111.92,214.24 112.48,214.82 113.04,215.14 113.60,215.42 114.16,214.05 114.72,215.81 115.28,213.42 115.84,214.09 116.40,214.97 116.96,214.49 117.52,213.65 118.08,212.77 118.64,213.86 119.20,212.29 119.76,214.35 120.32,215.38 120.88,213.57 121.44,215.08 122.00,213.48 122.56,211.92 123.12,212.56 123.68,214.13 124.24,214.18 124.80,212.38 125.36,213.75 125.92,212.78 126.48,212.14 127.04,211.23 127.60,212.45 128.16,213.44 128.72,212.85 129.28,212.52 129.84,212.53 130.40,212.96 130.96,211.45 131.52,212.39 132.08,211.56 132.64,212.38 133.20,210.64 133.76,213.44 134.32,213.00 134.88,214.14 135.44,213.05 136.00,212.68 136.56,214.12 137.12,214.44 137.68,215.14 138.24,214.23 138.80,213.58 139.36,214.32 139.92,214.88 140.48,214.12 141.04,213.86 141.60,213.63 142.16,214.83 142.72,214.38 143.28,214.95 143.84,214.87 144.40,211.65 144.96,214.45 145.52,213.19 146.08,212.35 146.64,213.67 147.20,214.87 147.76,214.72 148.32,214.64 148.88,214.64 149.44,216.19 150.00,214.46 150.56,215.94 151.12,215.12 151.68,214.94 152.24,214.62 152.80,214.30 153.36,215.76 153.92,214.92 154.48,214.82 155.04,214.46 155.60,213.60 156.16,214.37 156.72,214.72 157.28,214.05 157.84,216.12 158.40,214.29 158.96,215.73 159.52,214.65 160.08,215.87 160.64,215.35 161.20,214.23 161.76,212.78 162.32,212.46 162.88,212.81 163.44,212.89 164.00,212.88 164.56,211.36 165.12,212.17 165.68,210.90 166.24,210.11 166.80,211.81 167.36,213.71 167.92,213.42 168.48,213.60 169.04,214.15 169.60,211.72 170.16,212.50 170.72,213.90 171.28,213.25 171.84,212.69 172.40,213.64 172.96,214.26 173.52,213.85 174.08,214.46 174.64,213.59 175.20,213.32 175.76,212.68 176.32,213.54 176.88,212.84 177.44,213.42 178.00,214.75 178.56,213.98 179.12,213.81 179.68,213.14 180.24,212.51 180.80,213.92 181.36,214.47 181.92,212.90 182.48,212.82 183.04,212.30 183.60,212.16 184.16,212.94 184.72,212.87 185.28,214.67 185.84,212.84 186.40,212.22 186.96,213.30 187.52,212.49 188.08,212.42 188.64,214.51 189.20,214.43 189.76,212.05 190.32,212.92 190.88,213.64 191.44,212.80 192.00,212.27 192.56,212.41 193.12,211.11 193.68,213.01 194.24,213.28 194.80,211.76 195.36,211.70 195.92,213.40 196.48,212.13 197.04,212.53 197.60,210.73 198.16,213.92 198.72,212.51 199.28,213.50 199.84,213.47 200.40,212.16 200.96,211.72 201.52,212.30 202.08,212.86 202.64,213.21 203.20,213.00 203.76,211.70 204.32,212.08 204.88,211.96 205.44,212.33 206.00,212.40 206.56,213.09 207.12,213.54 207.68,215.23 208.24,215.01 208.80,215.81 209.36,213.71 209.92,216.07 210.48,214.18 211.04,214.24 211.60,214.21 212.16,214.07 212.72,215.34 213.28,215.65 213.84,214.73 214.40,214.46 214.96,215.62 215.52,213.98 216.08,212.92 216.64,215.43 217.20,213.56 217.76,213.76 218.32,213.10 218.88,212.04 219.44,213.24 220.00,211.99 220.56,214.45 221.12,212.38 221.68,212.86 222.24,211.80 222.80,212.26 223.36,213.59 223.92,212.14 224.48,211.99 225.04,210.66 225.60,212.51 226.16,212.05 226.72,213.00 227.28,211.10 227.84,211.24 228.40,212.73 228.96,213.01 229.52,214.74 230.08,212.33 230.64,211.84 231.20,213.61 231.76,213.21 232.32,213.80 232.88,214.79 233.44,213.34 234.00,215.03 234.56,214.15 235.12,213.96 235.68,214.00 236.24,214.76 236.80,214.33 237.36,215.58 237.92,215.74 238.48,213.86 239.04,213.90 239.60,213.62 240.16,213.85 240.72,213.81 241.28,214.43 241.84,213.91 242.40,213.67 242.96,212.28 243.52,211.62 244.08,210.04 244.64,212.87 245.20,212.18 245.76,210.89 246.32,211.97 246.88,212.18 247.44,210.17 248.00,212.41 248.56,212.41 249.12,212.87 249.68,211.22 250.24,211.56 250.80,213.32 251.36,212.15 251.92,211.32 252.48,212.15 253.04,213.64 253.60,212.76 254.16,211.73 254.72,213.78 255.28,212.22 255.84,212.31 256.40,213.07 256.96,214.16 257.52,211.84 258.08,211.57 258.64,210.73 259.20,213.95 259.76,210.59 260.32,213.84 260.88,212.28 261.44,213.24 262.00,213.01 262.56,213.37 263.12,214.67 263.68,213.77 264.24,214.02 264.80,215.40 265.36,210.38 265.92,211.55 266.48,211.05 267.04,213.06 267.60,211.33 268.16,211.37 268.72,211.54 269.28,212.94 269.84,213.44 270.40,212.65 270.96,214.56 271.52,214.38 272.08,212.75 272.64,214.19 273.20,213.74 273.76,213.68 274.32,212.21 274.88,212.73 275.44,214.10 276.00,211.93 276.56,213.00 277.12,212.55 277.68,211.69 278.24,212.54 278.80,211.85 279.36,213.03 279.92,211.88 280.48,210.66 281.04,212.16 281.60,211.62 282.16,211.75 282.72,212.76 283.28,212.72 283.84,211.21 284.40,209.67 284.96,211.68 285.52,212.91 286.08,211.41 286.64,211.86 287.20,211.73 287.76,212.48 288.32,213.28 288.88,212.92 289.44,213.96 290.00,213.97 290.56,215.39 291.12,214.42 291.68,215.52 292.24,214.04 292.80,213.88 293.36,214.00 293.92,213.66 294.48,215.35 295.04,214.48 295.60,215.00 296.16,213.53 296.72,213.12 297.28,213.32 297.84,214.19 298.40,212.66 298.96,214.92 299.52,212.46 300.08,215.01 300.64,216.34 301.20,211.53 301.76,212.45 302.32,214.11 302.88,212.51 303.44,213.49 304.00,213.63 304.56,214.15 305.12,212.83 305.68,212.41 306.24,213.30 306.80,212.78 307.36,213.92 307.92,212.71 308.48,215.09 309.04,214.75 309.60,216.96 310.16,215.65 310.72,213.64 311.28,215.39 311.84,213.65 312.40,213.64 312.96,214.62 313.52,213.96 314.08,214.48 314.64,213.49 315.20,212.17 315.76,212.90 316.32,213.93 316.88,213.85 317.44,212.66 318.00,212.14 318.56,210.71 319.12,209.89 319.68,211.66 320.24,213.20 320.80,213.23 321.36,213.79 321.92,212.53 322.48,212.81 323.04,213.57 323.60,213.97 324.16,212.90 324.72,214.48 325.28,214.64 325.84,215.53 326.40,212.78" fill="none" stroke="#6a6a6a" stroke-width="1.4" stroke-linejoin="round"/>
<rect x="32.50" y="1.50" width="308.70" height="1" fill="#4a4a4a"/>
<rect x="32.50" y="229.90" width="308.70" height="1" fill="#4a4a4a"/>
<rect x="32.50" y="1.50" width="1" height="229.40" fill="#4a4a4a"/>
<rect x="340.20" y="1.50" width="1" height="229.40" fill="#4a4a4a"/>
<rect x="29.60" y="219.85" width="3.4" height="0.9" fill="#4a4a4a"/>
<text x="27.00" y="223.60" font-size="8.65" text-anchor="end" fill="#222">0.0</text>
<rect x="29.60" y="193.48" width="3.4" height="0.9" fill="#4a4a4a"/>
<text x="27.00" y="197.23" font-size="8.65" text-anchor="end" fill="#222">0.1</text>
<rect x="29.60" y="167.10" width="3.4" height="0.9" fill="#4a4a4a"/>
<text x="27.00" y="170.85" font-size="8.65" text-anchor="end" fill="#222">0.2</text>
<rect x="29.60" y="140.73" width="3.4" height="0.9" fill="#4a4a4a"/>
<text x="27.00" y="144.48" font-size="8.65" text-anchor="end" fill="#222">0.3</text>
<rect x="29.60" y="114.35" width="3.4" height="0.9" fill="#4a4a4a"/>
<text x="27.00" y="118.10" font-size="8.65" text-anchor="end" fill="#222">0.4</text>
<rect x="29.60" y="87.98" width="3.4" height="0.9" fill="#4a4a4a"/>
<text x="27.00" y="91.73" font-size="8.65" text-anchor="end" fill="#222">0.5</text>
<rect x="29.60" y="61.60" width="3.4" height="0.9" fill="#4a4a4a"/>
<text x="27.00" y="65.35" font-size="8.65" text-anchor="end" fill="#222">0.6</text>
<rect x="29.60" y="35.23" width="3.4" height="0.9" fill="#4a4a4a"/>
<text x="27.00" y="38.98" font-size="8.65" text-anchor="end" fill="#222">0.7</text>
<rect x="29.60" y="8.85" width="3.4" height="0.9" fill="#4a4a4a"/>
<text x="27.00" y="12.60" font-size="8.65" text-anchor="end" fill="#222">0.8</text>
<rect x="45.95" y="230.40" width="0.9" height="3.4" fill="#4a4a4a"/>
<text x="46.40" y="243.20" font-size="8.65" text-anchor="middle" fill="#222">0</text>
<rect x="101.95" y="230.40" width="0.9" height="3.4" fill="#4a4a4a"/>
<text x="102.40" y="243.20" font-size="8.65" text-anchor="middle" fill="#222">100</text>
<rect x="157.95" y="230.40" width="0.9" height="3.4" fill="#4a4a4a"/>
<text x="158.40" y="243.20" font-size="8.65" text-anchor="middle" fill="#222">200</text>
<rect x="213.95" y="230.40" width="0.9" height="3.4" fill="#4a4a4a"/>
<text x="214.40" y="243.20" font-size="8.65" text-anchor="middle" fill="#222">300</text>
<rect x="269.95" y="230.40" width="0.9" height="3.4" fill="#4a4a4a"/>
<text x="270.40" y="243.20" font-size="8.65" text-anchor="middle" fill="#222">400</text>
<rect x="325.95" y="230.40" width="0.9" height="3.4" fill="#4a4a4a"/>
<text x="326.40" y="243.20" font-size="8.65" text-anchor="middle" fill="#222">500</text>
<text x="186.85" y="254.90" font-size="8.65" text-anchor="middle" fill="#222">epoch</text>
<text transform="translate(8.90 116.20) rotate(-90)" font-size="8.65" text-anchor="middle" fill="#222">MCC</text>
<text x="304.50" y="76.00" font-size="12.8" text-anchor="middle" fill="#727272">(A)</text>
<rect x="241.70" y="102.10" width="94.40" height="28.20" rx="1.6" ry="1.6" fill="#fff" fill-opacity="0.8" stroke="#d2d2d2" stroke-width="0.9"/>
<line x1="244.7" x2="262.9" y1="109.5" y2="109.5" stroke="#1c1c1c" stroke-width="1.3"/>
<line x1="244.7" x2="262.9" y1="122.0" y2="122.0" stroke="#7a7a7a" stroke-width="1.3"/>
<text x="269.6" y="112.50" font-size="8.65" fill="#222">Mean</text>
<text x="269.6" y="125.00" font-size="8.65" fill="#222">Standard error</text>
<polyline points="389.81,220.84 390.37,220.67 390.93,220.58 391.48,221.00 392.04,221.08 392.60,221.07 393.16,210.93 393.72,186.79 394.28,162.26 394.84,137.08 395.39,112.11 395.95,95.86 396.51,84.09 397.07,79.95 397.63,75.66 398.19,72.92 398.75,70.30 399.30,67.78 399.86,66.45 400.42,65.00 400.98,63.65 401.54,63.10 402.10,60.60 402.66,59.77 403.21,59.45 403.77,57.85 404.33,57.76 404.89,57.16 405.45,56.49 406.01,55.99 406.57,57.12 407.13,56.90 407.68,55.23 408.24,55.72 408.80,53.96 409.36,55.12 409.92,54.39 410.48,54.29 411.04,53.99 411.59,52.90 412.15,52.12 412.71,52.64 413.27,52.92 413.83,52.28 414.39,51.53 414.95,50.70 415.50,50.81 416.06,50.26 416.62,49.46 417.18,49.11 417.74,49.53 418.30,48.28 418.86,48.28 419.41,47.77 419.97,48.37 420.53,48.48 421.09,47.91 421.65,45.76 422.21,45.42 422.77,44.04 423.32,44.83 423.88,43.66 424.44,45.06 425.00,43.55 425.56,43.10 426.12,44.93 426.68,44.96 427.23,43.72 427.79,44.61 428.35,46.80 428.91,43.32 429.47,43.32 430.03,44.22 430.59,41.97 431.14,43.61 431.70,42.47 432.26,42.99 432.82,43.20 433.38,42.64 433.94,43.33 434.50,43.98 435.06,43.28 435.61,42.17 436.17,40.95 436.73,42.05 437.29,41.72 437.85,40.65 438.41,42.21 438.97,45.08 439.52,43.37 440.08,43.76 440.64,42.72 441.20,44.48 441.76,44.34 442.32,42.38 442.88,41.85 443.43,43.31 443.99,42.64 444.55,41.60 445.11,46.34 445.67,44.81 446.23,43.39 446.79,43.15 447.34,43.65 447.90,42.38 448.46,43.33 449.02,44.62 449.58,43.48 450.14,43.75 450.70,43.42 451.25,41.94 451.81,44.72 452.37,42.32 452.93,42.52 453.49,41.53 454.05,40.06 454.61,40.25 455.16,42.59 455.72,41.77 456.28,42.02 456.84,40.30 457.40,40.77 457.96,41.54 458.52,41.22 459.07,41.33 459.63,40.73 460.19,39.14 460.75,39.54 461.31,38.11 461.87,39.82 462.43,39.96 462.99,38.44 463.54,39.10 464.10,41.00 464.66,39.11 465.22,40.34 465.78,40.09 466.34,39.86 466.90,39.95 467.45,37.30 468.01,39.31 468.57,37.72 469.13,36.47 469.69,37.64 470.25,37.40 470.81,38.89 471.36,39.00 471.92,38.20 472.48,39.27 473.04,38.69 473.60,37.38 474.16,38.54 474.72,37.10 475.27,37.20 475.83,38.08 476.39,36.99 476.95,38.75 477.51,39.91 478.07,36.90 478.63,39.62 479.18,38.67 479.74,37.14 480.30,38.20 480.86,39.97 481.42,40.65 481.98,39.55 482.54,39.83 483.09,39.03 483.65,40.58 484.21,38.82 484.77,39.28 485.33,39.59 485.89,38.55 486.45,39.21 487.00,37.93 487.56,39.55 488.12,38.28 488.68,38.14 489.24,38.72 489.80,37.52 490.36,37.67 490.92,37.03 491.47,37.06 492.03,37.07 492.59,35.64 493.15,36.92 493.71,36.14 494.27,36.41 494.83,38.06 495.38,38.06 495.94,36.03 496.50,35.60 497.06,36.81 497.62,37.36 498.18,38.10 498.74,40.50 499.29,39.48 499.85,37.38 500.41,38.57 500.97,37.73 501.53,38.33 502.09,36.32 502.65,36.92 503.20,38.58 503.76,38.36 504.32,38.42 504.88,38.63 505.44,35.43 506.00,36.16 506.56,37.33 507.11,37.36 507.67,35.44 508.23,37.42 508.79,38.66 509.35,39.62 509.91,38.17 510.47,37.79 511.02,37.51 511.58,38.36 512.14,38.04 512.70,38.09 513.26,37.46 513.82,38.50 514.38,36.32 514.93,37.11 515.49,37.43 516.05,35.82 516.61,35.66 517.17,37.57 517.73,38.13 518.29,36.98 518.85,38.78 519.40,36.28 519.96,36.62 520.52,38.41 521.08,36.02 521.64,34.94 522.20,37.57 522.76,37.61 523.31,35.90 523.87,38.96 524.43,39.13 524.99,38.05 525.55,35.79 526.11,37.93 526.67,38.25 527.22,36.39 527.78,37.19 528.34,35.82 528.90,35.05 529.46,33.74 530.02,35.94 530.58,34.70 531.13,36.82 531.69,36.02 532.25,36.75 532.81,36.99 533.37,35.26 533.93,36.03 534.49,35.89 535.04,37.18 535.60,37.69 536.16,37.54 536.72,39.28 537.28,38.80 537.84,39.40 538.40,37.49 538.95,38.17 539.51,35.96 540.07,37.44 540.63,36.21 541.19,35.09 541.75,37.97 542.31,35.87 542.87,35.52 543.42,34.61 543.98,36.43 544.54,36.15 545.10,35.59 545.66,33.94 546.22,37.27 546.78,36.91 547.33,36.37 547.89,37.70 548.45,37.77 549.01,36.93 549.57,35.71 550.13,35.77 550.69,34.45 551.24,36.18 551.80,36.34 552.36,36.78 552.92,36.90 553.48,36.32 554.04,34.86 554.60,36.66 555.15,36.21 555.71,35.11 556.27,35.94 556.83,36.70 557.39,35.37 557.95,36.63 558.51,36.80 559.06,37.79 559.62,37.42 560.18,34.96 560.74,37.35 561.30,35.47 561.86,36.76 562.42,36.11 562.97,35.96 563.53,36.37 564.09,36.92 564.65,34.54 565.21,34.15 565.77,36.72 566.33,35.67 566.88,36.39 567.44,36.93 568.00,35.52 568.56,37.03 569.12,38.65 569.68,38.27 570.24,37.99 570.79,37.34 571.35,38.48 571.91,37.04 572.47,37.10 573.03,38.81 573.59,37.39 574.15,40.03 574.71,38.03 575.26,37.85 575.82,38.18 576.38,40.37 576.94,37.75 577.50,37.45 578.06,34.91 578.62,35.74 579.17,36.66 579.73,36.26 580.29,35.16 580.85,34.88 581.41,35.79 581.97,35.11 582.53,34.43 583.08,35.51 583.64,34.83 584.20,33.10 584.76,34.83 585.32,35.79 585.88,35.88 586.44,36.74 586.99,35.71 587.55,36.05 588.11,36.34 588.67,39.03 589.23,37.77 589.79,37.23 590.35,35.59 590.90,38.09 591.46,36.88 592.02,36.12 592.58,36.41 593.14,34.23 593.70,34.91 594.26,33.20 594.81,35.64 595.37,34.28 595.93,34.93 596.49,36.17 597.05,33.89 597.61,34.79 598.17,35.75 598.73,35.77 599.28,37.41 599.84,38.65 600.40,38.08 600.96,37.30 601.52,36.92 602.08,38.18 602.64,36.64 603.19,36.40 603.75,36.05 604.31,36.79 604.87,35.98 605.43,35.83 605.99,37.35 606.55,36.63 607.10,36.26 607.66,34.59 608.22,34.71 608.78,34.85 609.34,36.44 609.90,36.13 610.46,35.93 611.01,36.22 611.57,36.34 612.13,36.66 612.69,35.45 613.25,36.21 613.81,36.77 614.37,36.83 614.92,36.05 615.48,36.04 616.04,35.60 616.60,37.14 617.16,36.25 617.72,35.06 618.28,35.14 618.83,34.67 619.39,36.63 619.95,34.03 620.51,33.94 621.07,35.43 621.63,36.21 622.19,36.00 622.74,35.13 623.30,35.30 623.86,36.57 624.42,36.46 624.98,35.89 625.54,34.24 626.10,34.40 626.65,34.32 627.21,36.07 627.77,34.74 628.33,37.81 628.89,36.97 629.45,36.62 630.01,36.46 630.57,34.85 631.12,36.02 631.68,34.05 632.24,34.74 632.80,33.64 633.36,36.65 633.92,35.67 634.48,35.37 635.03,35.83 635.59,35.74 636.15,36.46 636.71,37.90 637.27,36.50 637.83,38.24 638.39,35.26 638.94,35.43 639.50,34.73 640.06,35.46 640.62,34.48 641.18,34.71 641.74,35.98 642.30,35.97 642.85,35.65 643.41,35.37 643.97,35.90 644.53,33.86 645.09,34.39 645.65,34.31 646.21,36.00 646.76,35.16 647.32,36.88 647.88,36.93 648.44,35.81 649.00,36.84 649.56,36.65 650.12,38.37 650.67,37.27 651.23,36.50 651.79,38.51 652.35,36.42 652.91,35.74 653.47,35.27 654.03,35.61 654.59,36.28 655.14,35.96 655.70,36.73 656.26,37.09 656.82,36.83 657.38,37.65 657.94,37.08 658.50,37.77 659.05,35.80 659.61,34.16 660.17,34.34 660.73,36.85 661.29,34.41 661.85,36.40 662.41,35.94 662.96,35.49 663.52,36.33 664.08,38.27 664.64,34.09 665.20,36.31 665.76,36.40 666.32,34.80 666.87,35.85 667.43,37.98 667.99,37.40 668.55,36.47" fill="none" stroke="#222222" stroke-width="1.5" stroke-linejoin="round"/>
<polyline points="389.25,220.75 389.81,220.80 390.37,220.59 390.93,220.80 391.48,220.70 392.04,220.80 392.60,220.80 393.16,207.80 393.72,187.46 394.28,169.28 394.84,171.92 395.39,187.40 395.95,200.28 396.51,205.84 397.07,207.32 397.63,208.04 398.19,208.92 398.75,209.70 399.30,209.35 399.86,208.79 400.42,210.63 400.98,210.71 401.54,210.01 402.10,210.58 402.66,212.91 403.21,210.70 403.77,211.12 404.33,209.60 404.89,210.60 405.45,211.19 406.01,207.39 406.57,211.00 407.13,211.99 407.68,211.84 408.24,210.81 408.80,210.74 409.36,211.01 409.92,212.31 410.48,209.54 411.04,212.72 411.59,211.76 412.15,212.72 412.71,211.47 413.27,211.94 413.83,211.48 414.39,212.04 414.95,212.42 415.50,213.77 416.06,213.05 416.62,213.85 417.18,214.18 417.74,214.28 418.30,213.44 418.86,213.36 419.41,211.86 419.97,211.76 420.53,213.01 421.09,212.30 421.65,212.53 422.21,215.01 422.77,213.29 423.32,215.51 423.88,214.56 424.44,213.36 425.00,214.86 425.56,213.82 426.12,215.43 426.68,214.85 427.23,212.81 427.79,213.43 428.35,211.93 428.91,211.69 429.47,213.80 430.03,213.81 430.59,214.22 431.14,214.97 431.70,215.08 432.26,214.46 432.82,216.14 433.38,215.44 433.94,214.31 434.50,213.38 435.06,214.35 435.61,215.31 436.17,214.58 436.73,214.77 437.29,214.53 437.85,212.99 438.41,212.31 438.97,212.06 439.52,214.90 440.08,211.75 440.64,214.65 441.20,214.29 441.76,214.49 442.32,212.85 442.88,213.96 443.43,212.72 443.99,213.93 444.55,214.53 445.11,214.94 445.67,214.50 446.23,214.55 446.79,212.99 447.34,213.09 447.90,212.87 448.46,211.40 449.02,213.45 449.58,213.88 450.14,214.12 450.70,215.56 451.25,214.70 451.81,214.02 452.37,215.36 452.93,213.86 453.49,213.56 454.05,215.01 454.61,215.06 455.16,212.98 455.72,213.74 456.28,214.09 456.84,214.28 457.40,212.27 457.96,212.78 458.52,213.44 459.07,214.08 459.63,212.64 460.19,213.61 460.75,212.54 461.31,215.22 461.87,212.88 462.43,211.50 462.99,212.25 463.54,212.53 464.10,211.44 464.66,211.77 465.22,211.85 465.78,212.11 466.34,214.07 466.90,214.28 467.45,213.64 468.01,215.56 468.57,212.67 469.13,213.24 469.69,214.48 470.25,212.20 470.81,213.56 471.36,212.12 471.92,215.23 472.48,213.62 473.04,215.51 473.60,214.21 474.16,215.47 474.72,212.79 475.27,213.66 475.83,211.31 476.39,213.59 476.95,211.41 477.51,211.64 478.07,212.53 478.63,213.23 479.18,211.29 479.74,213.51 480.30,211.55 480.86,211.52 481.42,212.33 481.98,214.64 482.54,213.91 483.09,212.72 483.65,212.50 484.21,214.07 484.77,215.99 485.33,216.13 485.89,214.92 486.45,214.66 487.00,213.31 487.56,213.80 488.12,214.52 488.68,214.18 489.24,213.10 489.80,212.37 490.36,213.26 490.92,212.93 491.47,214.40 492.03,213.54 492.59,212.59 493.15,213.60 493.71,213.29 494.27,214.34 494.83,214.42 495.38,214.85 495.94,212.84 496.50,213.73 497.06,215.50 497.62,214.87 498.18,213.42 498.74,213.58 499.29,213.32 499.85,215.99 500.41,214.81 500.97,216.17 501.53,212.39 502.09,211.20 502.65,213.40 503.20,212.65 503.76,213.82 504.32,213.72 504.88,214.79 505.44,213.80 506.00,211.86 506.56,212.58 507.11,212.02 507.67,212.38 508.23,213.79 508.79,214.41 509.35,211.75 509.91,211.84 510.47,213.44 511.02,211.73 511.58,213.49 512.14,212.51 512.70,213.24 513.26,213.18 513.82,214.75 514.38,214.84 514.93,215.05 515.49,212.87 516.05,214.53 516.61,213.17 517.17,213.75 517.73,214.81 518.29,213.58 518.85,213.56 519.40,214.74 519.96,212.67 520.52,214.91 521.08,213.41 521.64,213.69 522.20,214.38 522.76,216.09 523.31,215.51 523.87,215.75 524.43,216.51 524.99,216.74 525.55,215.88 526.11,214.87 526.67,213.59 527.22,215.22 527.78,212.67 528.34,213.89 528.90,210.92 529.46,212.18 530.02,210.53 530.58,211.90 531.13,213.20 531.69,213.84 532.25,212.37 532.81,213.63 533.37,211.88 533.93,212.95 534.49,214.07 535.04,213.14 535.60,213.62 536.16,212.97 536.72,212.61 537.28,213.89 537.84,213.62 538.40,214.92 538.95,214.42 539.51,215.08 540.07,212.73 540.63,213.25 541.19,214.29 541.75,213.53 542.31,213.57 542.87,213.20 543.42,213.61 543.98,213.83 544.54,211.14 545.10,212.90 545.66,213.20 546.22,212.66 546.78,212.47 547.33,214.11 547.89,212.25 548.45,214.40 549.01,214.69 549.57,212.88 550.13,212.75 550.69,214.18 551.24,215.25 551.80,216.36 552.36,213.91 552.92,215.16 553.48,214.18 554.04,215.40 554.60,214.30 555.15,215.40 555.71,213.70 556.27,214.34 556.83,214.76 557.39,215.15 557.95,214.19 558.51,216.37 559.06,215.03 559.62,215.49 560.18,214.65 560.74,213.10 561.30,214.85 561.86,213.18 562.42,214.21 562.97,212.53 563.53,212.49 564.09,212.73 564.65,213.37 565.21,212.47 565.77,213.61 566.33,212.30 566.88,212.46 567.44,211.61 568.00,210.80 568.56,212.00 569.12,214.41 569.68,213.51 570.24,214.43 570.79,216.11 571.35,215.46 571.91,215.28 572.47,216.33 573.03,212.15 573.59,215.24 574.15,214.11 574.71,213.03 575.26,214.36 575.82,213.38 576.38,215.74 576.94,214.49 577.50,214.69 578.06,214.14 578.62,213.60 579.17,215.19 579.73,213.16 580.29,215.44 580.85,214.33 581.41,214.88 581.97,214.76 582.53,214.15 583.08,212.87 583.64,211.43 584.20,214.36 584.76,213.98 585.32,215.13 585.88,212.37 586.44,213.90 586.99,213.11 587.55,212.97 588.11,213.16 588.67,213.23 589.23,214.35 589.79,214.14 590.35,215.47 590.90,214.10 591.46,214.20 592.02,214.27 592.58,212.83 593.14,213.06 593.70,214.96 594.26,214.10 594.81,213.25 595.37,214.43 595.93,213.70 596.49,213.77 597.05,214.83 597.61,212.35 598.17,212.28 598.73,214.05 599.28,212.85 599.84,215.85 600.40,215.78 600.96,214.02 601.52,214.81 602.08,213.70 602.64,212.52 603.19,215.07 603.75,214.79 604.31,212.98 604.87,213.05 605.43,213.76 605.99,214.34 606.55,213.38 607.10,214.03 607.66,214.27 608.22,214.11 608.78,213.20 609.34,214.53 609.90,215.52 610.46,214.12 611.01,212.94 611.57,214.96 612.13,214.93 612.69,214.37 613.25,215.24 613.81,214.59 614.37,214.04 614.92,214.52 615.48,215.39 616.04,215.57 616.60,213.72 617.16,217.18 617.72,215.05 618.28,215.30 618.83,214.83 619.39,213.69 619.95,213.46 620.51,212.14 621.07,212.07 621.63,213.01 622.19,212.48 622.74,212.69 623.30,214.02 623.86,211.59 624.42,213.04 624.98,215.79 625.54,214.81 626.10,215.92 626.65,214.84 627.21,214.61 627.77,213.16 628.33,213.97 628.89,213.15 629.45,213.42 630.01,214.96 630.57,214.07 631.12,215.34 631.68,215.59 632.24,216.04 632.80,216.53 633.36,214.67 633.92,216.13 634.48,214.18 635.03,213.82 635.59,212.23 636.15,214.56 636.71,214.09 637.27,215.38 637.83,215.32 638.39,215.17 638.94,214.19 639.50,216.53 640.06,216.42 640.62,213.35 641.18,213.35 641.74,213.34 642.30,213.52 642.85,212.20 643.41,215.31 643.97,214.81 644.53,214.54 645.09,211.46 645.65,212.55 646.21,212.59 646.76,213.56 647.32,213.68 647.88,212.84 648.44,213.68 649.00,213.41 649.56,213.13 650.12,211.52 650.67,212.21 651.23,212.66 651.79,212.61 652.35,214.98 652.91,213.18 653.47,213.52 654.03,212.70 654.59,212.57 655.14,213.26 655.70,212.55 656.26,212.88 656.82,213.45 657.38,212.27 657.94,212.79 658.50,213.87 659.05,214.93 659.61,212.93 660.17,215.37 660.73,214.11 661.29,215.62 661.85,215.54 662.41,215.76 662.96,214.79 663.52,215.18 664.08,214.89 664.64,214.91 665.20,212.84 665.76,215.86 666.32,215.16 666.87,215.21 667.43,213.17 667.99,213.55 668.55,213.64" fill="none" stroke="#6e6e6e" stroke-width="1.15" stroke-linejoin="round"/>
<rect x="375.00" y="2.00" width="308.20" height="1" fill="#4a4a4a"/>
<rect x="375.00" y="231.10" width="308.20" height="1" fill="#4a4a4a"/>
<rect x="375.00" y="2.00" width="1" height="230.10" fill="#4a4a4a"/>
<rect x="682.20" y="2.00" width="1" height="230.10" fill="#4a4a4a"/>
<rect x="372.60" y="220.35" width="2.9" height="0.9" fill="#777"/>
<text x="369.50" y="224.10" font-size="8.65" text-anchor="end" fill="#222">0.0</text>
<rect x="372.60" y="194.75" width="2.9" height="0.9" fill="#777"/>
<text x="369.50" y="198.50" font-size="8.65" text-anchor="end" fill="#222">0.1</text>
<rect x="372.60" y="169.15" width="2.9" height="0.9" fill="#777"/>
<text x="369.50" y="172.90" font-size="8.65" text-anchor="end" fill="#222">0.2</text>
<rect x="372.60" y="143.55" width="2.9" height="0.9" fill="#777"/>
<text x="369.50" y="147.30" font-size="8.65" text-anchor="end" fill="#222">0.3</text>
<rect x="372.60" y="117.95" width="2.9" height="0.9" fill="#777"/>
<text x="369.50" y="121.70" font-size="8.65" text-anchor="end" fill="#222">0.4</text>
<rect x="372.60" y="92.35" width="2.9" height="0.9" fill="#777"/>
<text x="369.50" y="96.10" font-size="8.65" text-anchor="end" fill="#222">0.5</text>
<rect x="372.60" y="66.75" width="2.9" height="0.9" fill="#777"/>
<text x="369.50" y="70.50" font-size="8.65" text-anchor="end" fill="#222">0.6</text>
<rect x="372.60" y="41.15" width="2.9" height="0.9" fill="#777"/>
<text x="369.50" y="44.90" font-size="8.65" text-anchor="end" fill="#222">0.7</text>
<rect x="372.60" y="15.55" width="2.9" height="0.9" fill="#777"/>
<text x="369.50" y="19.30" font-size="8.65" text-anchor="end" fill="#222">0.8</text>
<rect x="388.80" y="231.60" width="0.9" height="2.9" fill="#777"/>
<text x="389.25" y="243.90" font-size="8.65" text-anchor="middle" fill="#222">0</text>
<rect x="444.66" y="231.60" width="0.9" height="2.9" fill="#777"/>
<text x="445.11" y="243.90" font-size="8.65" text-anchor="middle" fill="#222">100</text>
<rect x="500.52" y="231.60" width="0.9" height="2.9" fill="#777"/>
<text x="500.97" y="243.90" font-size="8.65" text-anchor="middle" fill="#222">200</text>
<rect x="556.38" y="231.60" width="0.9" height="2.9" fill="#777"/>
<text x="556.83" y="243.90" font-size="8.65" text-anchor="middle" fill="#222">300</text>
<rect x="612.24" y="231.60" width="0.9" height="2.9" fill="#777"/>
<text x="612.69" y="243.90" font-size="8.65" text-anchor="middle" fill="#222">400</text>
<rect x="668.10" y="231.60" width="0.9" height="2.9" fill="#777"/>
<text x="668.55" y="243.90" font-size="8.65" text-anchor="middle" fill="#222">500</text>
<text x="529.10" y="256.40" font-size="8.65" text-anchor="middle" fill="#222">epoch</text>
<text transform="translate(351.00 117.05) rotate(-90)" font-size="8.65" text-anchor="middle" fill="#222">MCC</text>
<text x="653.00" y="79.20" font-size="12.8" text-anchor="middle" fill="#727272">(B)</text>
<rect x="584.10" y="102.90" width="94.20" height="27.80" rx="1.6" ry="1.6" fill="#fff" fill-opacity="0.8" stroke="#d2d2d2" stroke-width="0.9"/>
<line x1="587.3" x2="605.5" y1="110.2" y2="110.2" stroke="#222222" stroke-width="1.5"/>
<line x1="587.3" x2="605.5" y1="123.0" y2="123.0" stroke="#6e6e6e" stroke-width="1.15"/>
<text x="612.2" y="113.20" font-size="8.65" fill="#222">Mean</text>
<text x="612.2" y="126.00" font-size="8.65" fill="#222">Standard error</text>
</svg>
</body></html>
